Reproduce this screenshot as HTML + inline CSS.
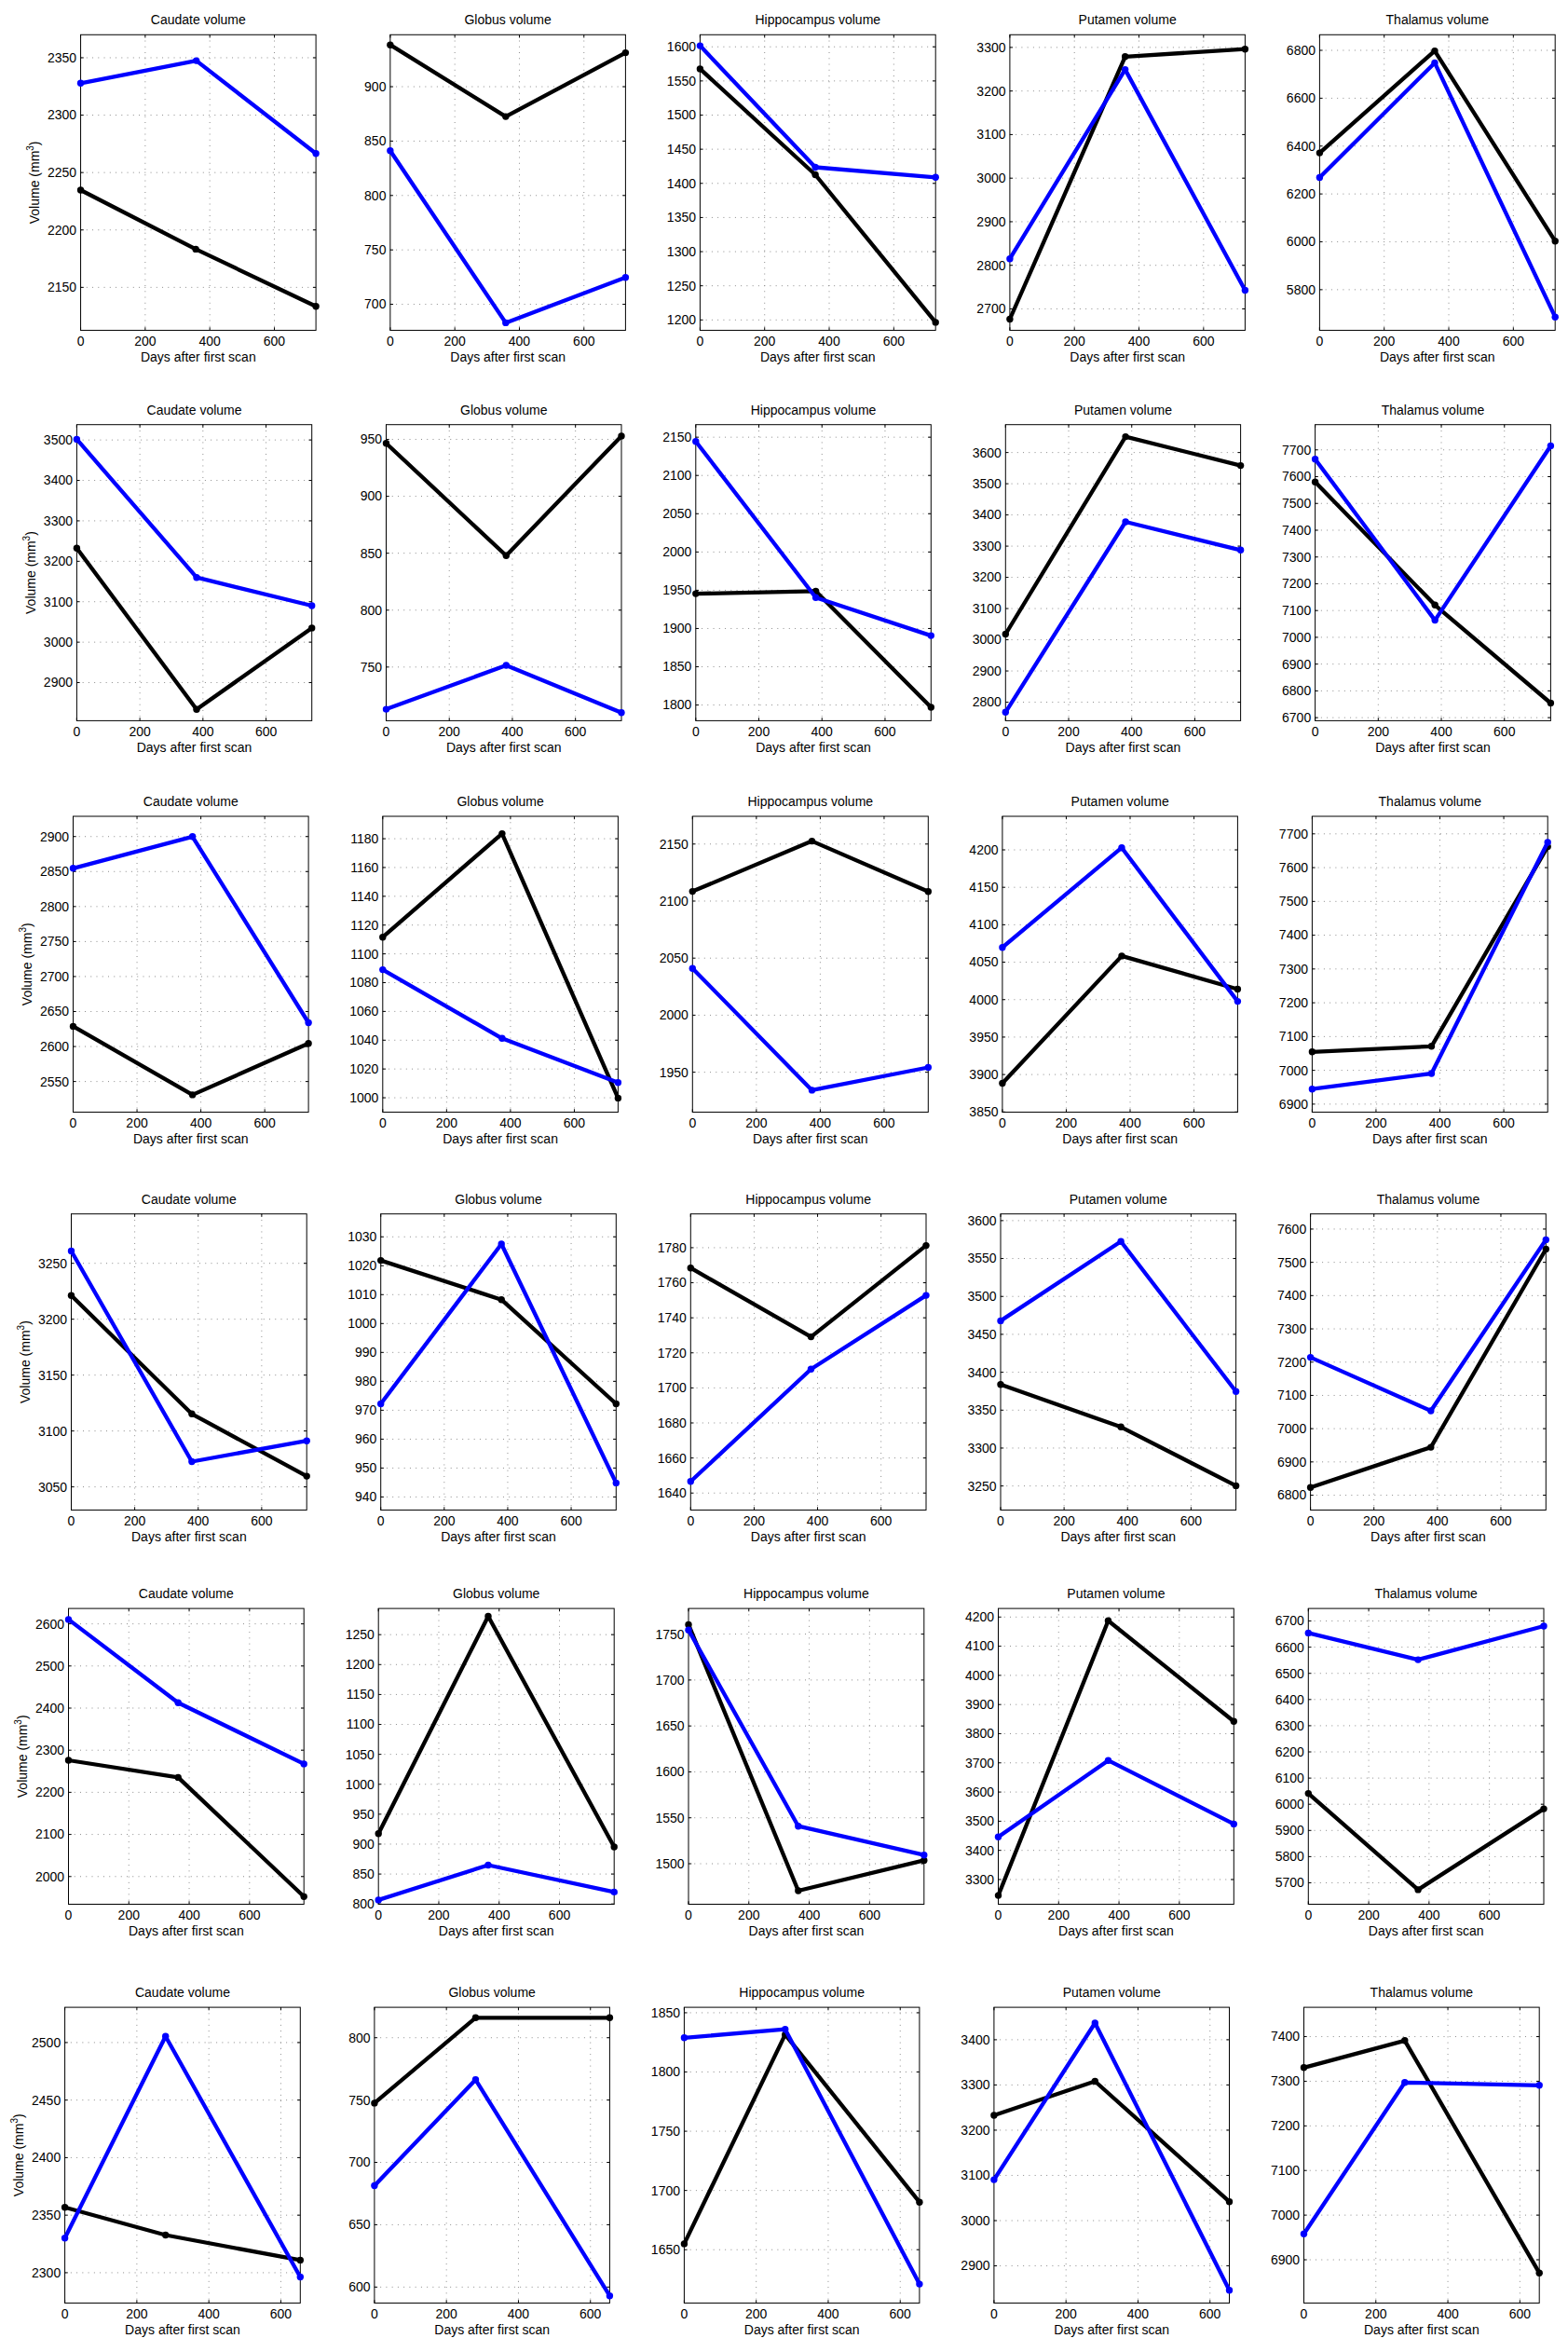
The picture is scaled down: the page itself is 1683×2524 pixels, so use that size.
<!DOCTYPE html>
<html><head><meta charset="utf-8"><title>Brain structure volumes</title>
<style>html,body{margin:0;padding:0;background:#fff;}svg{display:block;}</style>
</head><body>
<svg width="1683" height="2524" viewBox="0 0 1683 2524">
<g font-family="'Liberation Sans', Arial, Helvetica, sans-serif" font-size="14" fill="#000">
<path d="M155.87 37.27V354.45M225.18 37.27V354.45M294.49 37.27V354.45M86.56 61.96H339.1M86.56 123.56H339.1M86.56 185.16H339.1M86.56 246.76H339.1M86.56 308.36H339.1" stroke="#8c8c8c" stroke-width="1" stroke-dasharray="1 5.25" fill="none"/>
<path d="M86.56 354.45v-3.2M86.56 37.27v3.2M155.87 354.45v-3.2M155.87 37.27v3.2M225.18 354.45v-3.2M225.18 37.27v3.2M294.49 354.45v-3.2M294.49 37.27v3.2M86.56 61.96h3.2M339.1 61.96h-3.2M86.56 123.56h3.2M339.1 123.56h-3.2M86.56 185.16h3.2M339.1 185.16h-3.2M86.56 246.76h3.2M339.1 246.76h-3.2M86.56 308.36h3.2M339.1 308.36h-3.2" stroke="#000" stroke-width="1" fill="none"/>
<rect x="86.56" y="37.27" width="252.54" height="317.18" fill="none" stroke="#000" stroke-width="1"/>
<polyline points="86.56,204 210.1,267.4 339.1,328.7" fill="none" stroke="#000" stroke-width="4.3" stroke-linejoin="round"/>
<circle cx="86.56" cy="204" r="3.7" fill="#000"/>
<circle cx="210.1" cy="267.4" r="3.7" fill="#000"/>
<circle cx="339.1" cy="328.7" r="3.7" fill="#000"/>
<polyline points="86.56,89.3 210.7,65.1 339.1,164.8" fill="none" stroke="#0000ff" stroke-width="4.3" stroke-linejoin="round"/>
<circle cx="86.56" cy="89.3" r="3.7" fill="#0000ff"/>
<circle cx="210.7" cy="65.1" r="3.7" fill="#0000ff"/>
<circle cx="339.1" cy="164.8" r="3.7" fill="#0000ff"/>
<text x="82.16" y="66.86" text-anchor="end">2350</text>
<text x="82.16" y="128.46" text-anchor="end">2300</text>
<text x="82.16" y="190.06" text-anchor="end">2250</text>
<text x="82.16" y="251.66" text-anchor="end">2200</text>
<text x="82.16" y="313.26" text-anchor="end">2150</text>
<text x="86.56" y="371.25" text-anchor="middle">0</text>
<text x="155.87" y="371.25" text-anchor="middle">200</text>
<text x="225.18" y="371.25" text-anchor="middle">400</text>
<text x="294.49" y="371.25" text-anchor="middle">600</text>
<text x="212.83" y="25.87" text-anchor="middle">Caudate volume</text>
<text x="212.83" y="387.95" text-anchor="middle">Days after first scan</text>
<text transform="translate(41.76 195.86) rotate(-90)" text-anchor="middle">Volume (mm<tspan font-size="10" dy="-6">3</tspan><tspan dy="6">)</tspan></text>
<path d="M488.16 37.27V354.45M557.47 37.27V354.45M626.78 37.27V354.45M418.85 93.02H671.4M418.85 151.4H671.4M418.85 209.78H671.4M418.85 268.16H671.4M418.85 326.54H671.4" stroke="#8c8c8c" stroke-width="1" stroke-dasharray="1 5.25" fill="none"/>
<path d="M418.85 354.45v-3.2M418.85 37.27v3.2M488.16 354.45v-3.2M488.16 37.27v3.2M557.47 354.45v-3.2M557.47 37.27v3.2M626.78 354.45v-3.2M626.78 37.27v3.2M418.85 93.02h3.2M671.4 93.02h-3.2M418.85 151.4h3.2M671.4 151.4h-3.2M418.85 209.78h3.2M671.4 209.78h-3.2M418.85 268.16h3.2M671.4 268.16h-3.2M418.85 326.54h3.2M671.4 326.54h-3.2" stroke="#000" stroke-width="1" fill="none"/>
<rect x="418.85" y="37.27" width="252.55" height="317.18" fill="none" stroke="#000" stroke-width="1"/>
<polyline points="418.85,48.2 542.8,125.1 671.4,56.6" fill="none" stroke="#000" stroke-width="4.3" stroke-linejoin="round"/>
<circle cx="418.85" cy="48.2" r="3.7" fill="#000"/>
<circle cx="542.8" cy="125.1" r="3.7" fill="#000"/>
<circle cx="671.4" cy="56.6" r="3.7" fill="#000"/>
<polyline points="418.85,161.8 542.8,346.4 671.4,297.7" fill="none" stroke="#0000ff" stroke-width="4.3" stroke-linejoin="round"/>
<circle cx="418.85" cy="161.8" r="3.7" fill="#0000ff"/>
<circle cx="542.8" cy="346.4" r="3.7" fill="#0000ff"/>
<circle cx="671.4" cy="297.7" r="3.7" fill="#0000ff"/>
<text x="414.45" y="97.92" text-anchor="end">900</text>
<text x="414.45" y="156.3" text-anchor="end">850</text>
<text x="414.45" y="214.68" text-anchor="end">800</text>
<text x="414.45" y="273.06" text-anchor="end">750</text>
<text x="414.45" y="331.44" text-anchor="end">700</text>
<text x="418.85" y="371.25" text-anchor="middle">0</text>
<text x="488.16" y="371.25" text-anchor="middle">200</text>
<text x="557.47" y="371.25" text-anchor="middle">400</text>
<text x="626.78" y="371.25" text-anchor="middle">600</text>
<text x="545.12" y="25.87" text-anchor="middle">Globus volume</text>
<text x="545.12" y="387.95" text-anchor="middle">Days after first scan</text>
<path d="M820.71 37.27V354.45M890.02 37.27V354.45M959.33 37.27V354.45M751.4 50.24H1004.2M751.4 86.87H1004.2M751.4 123.51H1004.2M751.4 160.14H1004.2M751.4 196.78H1004.2M751.4 233.41H1004.2M751.4 270.05H1004.2M751.4 306.68H1004.2M751.4 343.32H1004.2" stroke="#8c8c8c" stroke-width="1" stroke-dasharray="1 5.25" fill="none"/>
<path d="M751.4 354.45v-3.2M751.4 37.27v3.2M820.71 354.45v-3.2M820.71 37.27v3.2M890.02 354.45v-3.2M890.02 37.27v3.2M959.33 354.45v-3.2M959.33 37.27v3.2M751.4 50.24h3.2M1004.2 50.24h-3.2M751.4 86.87h3.2M1004.2 86.87h-3.2M751.4 123.51h3.2M1004.2 123.51h-3.2M751.4 160.14h3.2M1004.2 160.14h-3.2M751.4 196.78h3.2M1004.2 196.78h-3.2M751.4 233.41h3.2M1004.2 233.41h-3.2M751.4 270.05h3.2M1004.2 270.05h-3.2M751.4 306.68h3.2M1004.2 306.68h-3.2M751.4 343.32h3.2M1004.2 343.32h-3.2" stroke="#000" stroke-width="1" fill="none"/>
<rect x="751.4" y="37.27" width="252.8" height="317.18" fill="none" stroke="#000" stroke-width="1"/>
<polyline points="751.4,73.9 875.1,187.5 1004.2,345.9" fill="none" stroke="#000" stroke-width="4.3" stroke-linejoin="round"/>
<circle cx="751.4" cy="73.9" r="3.7" fill="#000"/>
<circle cx="875.1" cy="187.5" r="3.7" fill="#000"/>
<circle cx="1004.2" cy="345.9" r="3.7" fill="#000"/>
<polyline points="751.4,49.1 875.1,179.5 1004.2,190.3" fill="none" stroke="#0000ff" stroke-width="4.3" stroke-linejoin="round"/>
<circle cx="751.4" cy="49.1" r="3.7" fill="#0000ff"/>
<circle cx="875.1" cy="179.5" r="3.7" fill="#0000ff"/>
<circle cx="1004.2" cy="190.3" r="3.7" fill="#0000ff"/>
<text x="747" y="55.14" text-anchor="end">1600</text>
<text x="747" y="91.77" text-anchor="end">1550</text>
<text x="747" y="128.41" text-anchor="end">1500</text>
<text x="747" y="165.04" text-anchor="end">1450</text>
<text x="747" y="201.68" text-anchor="end">1400</text>
<text x="747" y="238.31" text-anchor="end">1350</text>
<text x="747" y="274.95" text-anchor="end">1300</text>
<text x="747" y="311.58" text-anchor="end">1250</text>
<text x="747" y="348.22" text-anchor="end">1200</text>
<text x="751.4" y="371.25" text-anchor="middle">0</text>
<text x="820.71" y="371.25" text-anchor="middle">200</text>
<text x="890.02" y="371.25" text-anchor="middle">400</text>
<text x="959.33" y="371.25" text-anchor="middle">600</text>
<text x="877.8" y="25.87" text-anchor="middle">Hippocampus volume</text>
<text x="877.8" y="387.95" text-anchor="middle">Days after first scan</text>
<path d="M1153.21 37.27V354.45M1222.52 37.27V354.45M1291.83 37.27V354.45M1083.9 50.89H1336.4M1083.9 97.66H1336.4M1083.9 144.42H1336.4M1083.9 191.19H1336.4M1083.9 237.95H1336.4M1083.9 284.71H1336.4M1083.9 331.48H1336.4" stroke="#8c8c8c" stroke-width="1" stroke-dasharray="1 5.25" fill="none"/>
<path d="M1083.9 354.45v-3.2M1083.9 37.27v3.2M1153.21 354.45v-3.2M1153.21 37.27v3.2M1222.52 354.45v-3.2M1222.52 37.27v3.2M1291.83 354.45v-3.2M1291.83 37.27v3.2M1083.9 50.89h3.2M1336.4 50.89h-3.2M1083.9 97.66h3.2M1336.4 97.66h-3.2M1083.9 144.42h3.2M1336.4 144.42h-3.2M1083.9 191.19h3.2M1336.4 191.19h-3.2M1083.9 237.95h3.2M1336.4 237.95h-3.2M1083.9 284.71h3.2M1336.4 284.71h-3.2M1083.9 331.48h3.2M1336.4 331.48h-3.2" stroke="#000" stroke-width="1" fill="none"/>
<rect x="1083.9" y="37.27" width="252.5" height="317.18" fill="none" stroke="#000" stroke-width="1"/>
<polyline points="1083.9,342.5 1207.65,60.8 1336.4,52.7" fill="none" stroke="#000" stroke-width="4.3" stroke-linejoin="round"/>
<circle cx="1083.9" cy="342.5" r="3.7" fill="#000"/>
<circle cx="1207.65" cy="60.8" r="3.7" fill="#000"/>
<circle cx="1336.4" cy="52.7" r="3.7" fill="#000"/>
<polyline points="1083.9,277.7 1207.65,74.6 1336.4,311.5" fill="none" stroke="#0000ff" stroke-width="4.3" stroke-linejoin="round"/>
<circle cx="1083.9" cy="277.7" r="3.7" fill="#0000ff"/>
<circle cx="1207.65" cy="74.6" r="3.7" fill="#0000ff"/>
<circle cx="1336.4" cy="311.5" r="3.7" fill="#0000ff"/>
<text x="1079.5" y="55.79" text-anchor="end">3300</text>
<text x="1079.5" y="102.56" text-anchor="end">3200</text>
<text x="1079.5" y="149.32" text-anchor="end">3100</text>
<text x="1079.5" y="196.09" text-anchor="end">3000</text>
<text x="1079.5" y="242.85" text-anchor="end">2900</text>
<text x="1079.5" y="289.61" text-anchor="end">2800</text>
<text x="1079.5" y="336.38" text-anchor="end">2700</text>
<text x="1083.9" y="371.25" text-anchor="middle">0</text>
<text x="1153.21" y="371.25" text-anchor="middle">200</text>
<text x="1222.52" y="371.25" text-anchor="middle">400</text>
<text x="1291.83" y="371.25" text-anchor="middle">600</text>
<text x="1210.15" y="25.87" text-anchor="middle">Putamen volume</text>
<text x="1210.15" y="387.95" text-anchor="middle">Days after first scan</text>
<path d="M1485.71 37.27V354.45M1555.02 37.27V354.45M1624.33 37.27V354.45M1416.4 54H1669.2M1416.4 105.38H1669.2M1416.4 156.75H1669.2M1416.4 208.12H1669.2M1416.4 259.49H1669.2M1416.4 310.86H1669.2" stroke="#8c8c8c" stroke-width="1" stroke-dasharray="1 5.25" fill="none"/>
<path d="M1416.4 354.45v-3.2M1416.4 37.27v3.2M1485.71 354.45v-3.2M1485.71 37.27v3.2M1555.02 354.45v-3.2M1555.02 37.27v3.2M1624.33 354.45v-3.2M1624.33 37.27v3.2M1416.4 54h3.2M1669.2 54h-3.2M1416.4 105.38h3.2M1669.2 105.38h-3.2M1416.4 156.75h3.2M1669.2 156.75h-3.2M1416.4 208.12h3.2M1669.2 208.12h-3.2M1416.4 259.49h3.2M1669.2 259.49h-3.2M1416.4 310.86h3.2M1669.2 310.86h-3.2" stroke="#000" stroke-width="1" fill="none"/>
<rect x="1416.4" y="37.27" width="252.8" height="317.18" fill="none" stroke="#000" stroke-width="1"/>
<polyline points="1416.4,164.1 1539.96,54.6 1669.2,258.7" fill="none" stroke="#000" stroke-width="4.3" stroke-linejoin="round"/>
<circle cx="1416.4" cy="164.1" r="3.7" fill="#000"/>
<circle cx="1539.96" cy="54.6" r="3.7" fill="#000"/>
<circle cx="1669.2" cy="258.7" r="3.7" fill="#000"/>
<polyline points="1416.4,190.5 1539.96,67.4 1669.2,340.2" fill="none" stroke="#0000ff" stroke-width="4.3" stroke-linejoin="round"/>
<circle cx="1416.4" cy="190.5" r="3.7" fill="#0000ff"/>
<circle cx="1539.96" cy="67.4" r="3.7" fill="#0000ff"/>
<circle cx="1669.2" cy="340.2" r="3.7" fill="#0000ff"/>
<text x="1412" y="58.9" text-anchor="end">6800</text>
<text x="1412" y="110.28" text-anchor="end">6600</text>
<text x="1412" y="161.65" text-anchor="end">6400</text>
<text x="1412" y="213.02" text-anchor="end">6200</text>
<text x="1412" y="264.39" text-anchor="end">6000</text>
<text x="1412" y="315.76" text-anchor="end">5800</text>
<text x="1416.4" y="371.25" text-anchor="middle">0</text>
<text x="1485.71" y="371.25" text-anchor="middle">200</text>
<text x="1555.02" y="371.25" text-anchor="middle">400</text>
<text x="1624.33" y="371.25" text-anchor="middle">600</text>
<text x="1542.8" y="25.87" text-anchor="middle">Thalamus volume</text>
<text x="1542.8" y="387.95" text-anchor="middle">Days after first scan</text>
<path d="M150.12 455.7V773.4M217.84 455.7V773.4M285.56 455.7V773.4M82.4 472.13H334.7M82.4 515.53H334.7M82.4 558.93H334.7M82.4 602.33H334.7M82.4 645.73H334.7M82.4 689.13H334.7M82.4 732.53H334.7" stroke="#8c8c8c" stroke-width="1" stroke-dasharray="1 5.25" fill="none"/>
<path d="M82.4 773.4v-3.2M82.4 455.7v3.2M150.12 773.4v-3.2M150.12 455.7v3.2M217.84 773.4v-3.2M217.84 455.7v3.2M285.56 773.4v-3.2M285.56 455.7v3.2M82.4 472.13h3.2M334.7 472.13h-3.2M82.4 515.53h3.2M334.7 515.53h-3.2M82.4 558.93h3.2M334.7 558.93h-3.2M82.4 602.33h3.2M334.7 602.33h-3.2M82.4 645.73h3.2M334.7 645.73h-3.2M82.4 689.13h3.2M334.7 689.13h-3.2M82.4 732.53h3.2M334.7 732.53h-3.2" stroke="#000" stroke-width="1" fill="none"/>
<rect x="82.4" y="455.7" width="252.3" height="317.7" fill="none" stroke="#000" stroke-width="1"/>
<polyline points="82.4,588.2 211,761.3 334.7,673.9" fill="none" stroke="#000" stroke-width="4.3" stroke-linejoin="round"/>
<circle cx="82.4" cy="588.2" r="3.7" fill="#000"/>
<circle cx="211" cy="761.3" r="3.7" fill="#000"/>
<circle cx="334.7" cy="673.9" r="3.7" fill="#000"/>
<polyline points="82.4,471.4 211,619.7 334.7,650" fill="none" stroke="#0000ff" stroke-width="4.3" stroke-linejoin="round"/>
<circle cx="82.4" cy="471.4" r="3.7" fill="#0000ff"/>
<circle cx="211" cy="619.7" r="3.7" fill="#0000ff"/>
<circle cx="334.7" cy="650" r="3.7" fill="#0000ff"/>
<text x="78" y="477.03" text-anchor="end">3500</text>
<text x="78" y="520.43" text-anchor="end">3400</text>
<text x="78" y="563.83" text-anchor="end">3300</text>
<text x="78" y="607.23" text-anchor="end">3200</text>
<text x="78" y="650.63" text-anchor="end">3100</text>
<text x="78" y="694.03" text-anchor="end">3000</text>
<text x="78" y="737.43" text-anchor="end">2900</text>
<text x="82.4" y="790.2" text-anchor="middle">0</text>
<text x="150.12" y="790.2" text-anchor="middle">200</text>
<text x="217.84" y="790.2" text-anchor="middle">400</text>
<text x="285.56" y="790.2" text-anchor="middle">600</text>
<text x="208.55" y="444.95" text-anchor="middle">Caudate volume</text>
<text x="208.55" y="806.9" text-anchor="middle">Days after first scan</text>
<text transform="translate(37.6 614.55) rotate(-90)" text-anchor="middle">Volume (mm<tspan font-size="10" dy="-6">3</tspan><tspan dy="6">)</tspan></text>
<path d="M482.22 455.7V773.4M549.94 455.7V773.4M617.66 455.7V773.4M414.5 471.48H667M414.5 532.57H667M414.5 593.66H667M414.5 654.75H667M414.5 715.84H667" stroke="#8c8c8c" stroke-width="1" stroke-dasharray="1 5.25" fill="none"/>
<path d="M414.5 773.4v-3.2M414.5 455.7v3.2M482.22 773.4v-3.2M482.22 455.7v3.2M549.94 773.4v-3.2M549.94 455.7v3.2M617.66 773.4v-3.2M617.66 455.7v3.2M414.5 471.48h3.2M667 471.48h-3.2M414.5 532.57h3.2M667 532.57h-3.2M414.5 593.66h3.2M667 593.66h-3.2M414.5 654.75h3.2M667 654.75h-3.2M414.5 715.84h3.2M667 715.84h-3.2" stroke="#000" stroke-width="1" fill="none"/>
<rect x="414.5" y="455.7" width="252.5" height="317.7" fill="none" stroke="#000" stroke-width="1"/>
<polyline points="414.5,475.7 543.3,596.3 667,467.9" fill="none" stroke="#000" stroke-width="4.3" stroke-linejoin="round"/>
<circle cx="414.5" cy="475.7" r="3.7" fill="#000"/>
<circle cx="543.3" cy="596.3" r="3.7" fill="#000"/>
<circle cx="667" cy="467.9" r="3.7" fill="#000"/>
<polyline points="414.5,761.1 543.3,714 667,764.8" fill="none" stroke="#0000ff" stroke-width="4.3" stroke-linejoin="round"/>
<circle cx="414.5" cy="761.1" r="3.7" fill="#0000ff"/>
<circle cx="543.3" cy="714" r="3.7" fill="#0000ff"/>
<circle cx="667" cy="764.8" r="3.7" fill="#0000ff"/>
<text x="410.1" y="476.38" text-anchor="end">950</text>
<text x="410.1" y="537.47" text-anchor="end">900</text>
<text x="410.1" y="598.56" text-anchor="end">850</text>
<text x="410.1" y="659.65" text-anchor="end">800</text>
<text x="410.1" y="720.74" text-anchor="end">750</text>
<text x="414.5" y="790.2" text-anchor="middle">0</text>
<text x="482.22" y="790.2" text-anchor="middle">200</text>
<text x="549.94" y="790.2" text-anchor="middle">400</text>
<text x="617.66" y="790.2" text-anchor="middle">600</text>
<text x="540.75" y="444.95" text-anchor="middle">Globus volume</text>
<text x="540.75" y="806.9" text-anchor="middle">Days after first scan</text>
<path d="M814.52 455.7V773.4M882.24 455.7V773.4M949.96 455.7V773.4M746.8 469.17H999.3M746.8 510.23H999.3M746.8 551.29H999.3M746.8 592.35H999.3M746.8 633.4H999.3M746.8 674.46H999.3M746.8 715.52H999.3M746.8 756.57H999.3" stroke="#8c8c8c" stroke-width="1" stroke-dasharray="1 5.25" fill="none"/>
<path d="M746.8 773.4v-3.2M746.8 455.7v3.2M814.52 773.4v-3.2M814.52 455.7v3.2M882.24 773.4v-3.2M882.24 455.7v3.2M949.96 773.4v-3.2M949.96 455.7v3.2M746.8 469.17h3.2M999.3 469.17h-3.2M746.8 510.23h3.2M999.3 510.23h-3.2M746.8 551.29h3.2M999.3 551.29h-3.2M746.8 592.35h3.2M999.3 592.35h-3.2M746.8 633.4h3.2M999.3 633.4h-3.2M746.8 674.46h3.2M999.3 674.46h-3.2M746.8 715.52h3.2M999.3 715.52h-3.2M746.8 756.57h3.2M999.3 756.57h-3.2" stroke="#000" stroke-width="1" fill="none"/>
<rect x="746.8" y="455.7" width="252.5" height="317.7" fill="none" stroke="#000" stroke-width="1"/>
<polyline points="746.8,637.1 875.6,634.4 999.3,759" fill="none" stroke="#000" stroke-width="4.3" stroke-linejoin="round"/>
<circle cx="746.8" cy="637.1" r="3.7" fill="#000"/>
<circle cx="875.6" cy="634.4" r="3.7" fill="#000"/>
<circle cx="999.3" cy="759" r="3.7" fill="#000"/>
<polyline points="746.8,473.7 875.6,641.3 999.3,682.1" fill="none" stroke="#0000ff" stroke-width="4.3" stroke-linejoin="round"/>
<circle cx="746.8" cy="473.7" r="3.7" fill="#0000ff"/>
<circle cx="875.6" cy="641.3" r="3.7" fill="#0000ff"/>
<circle cx="999.3" cy="682.1" r="3.7" fill="#0000ff"/>
<text x="742.4" y="474.07" text-anchor="end">2150</text>
<text x="742.4" y="515.13" text-anchor="end">2100</text>
<text x="742.4" y="556.19" text-anchor="end">2050</text>
<text x="742.4" y="597.25" text-anchor="end">2000</text>
<text x="742.4" y="638.3" text-anchor="end">1950</text>
<text x="742.4" y="679.36" text-anchor="end">1900</text>
<text x="742.4" y="720.42" text-anchor="end">1850</text>
<text x="742.4" y="761.47" text-anchor="end">1800</text>
<text x="746.8" y="790.2" text-anchor="middle">0</text>
<text x="814.52" y="790.2" text-anchor="middle">200</text>
<text x="882.24" y="790.2" text-anchor="middle">400</text>
<text x="949.96" y="790.2" text-anchor="middle">600</text>
<text x="873.05" y="444.95" text-anchor="middle">Hippocampus volume</text>
<text x="873.05" y="806.9" text-anchor="middle">Days after first scan</text>
<path d="M1147.02 455.7V773.4M1214.74 455.7V773.4M1282.46 455.7V773.4M1079.3 485.61H1331.6M1079.3 519.1H1331.6M1079.3 552.59H1331.6M1079.3 586.08H1331.6M1079.3 619.57H1331.6M1079.3 653.06H1331.6M1079.3 686.55H1331.6M1079.3 720.04H1331.6M1079.3 753.53H1331.6" stroke="#8c8c8c" stroke-width="1" stroke-dasharray="1 5.25" fill="none"/>
<path d="M1079.3 773.4v-3.2M1079.3 455.7v3.2M1147.02 773.4v-3.2M1147.02 455.7v3.2M1214.74 773.4v-3.2M1214.74 455.7v3.2M1282.46 773.4v-3.2M1282.46 455.7v3.2M1079.3 485.61h3.2M1331.6 485.61h-3.2M1079.3 519.1h3.2M1331.6 519.1h-3.2M1079.3 552.59h3.2M1331.6 552.59h-3.2M1079.3 586.08h3.2M1331.6 586.08h-3.2M1079.3 619.57h3.2M1331.6 619.57h-3.2M1079.3 653.06h3.2M1331.6 653.06h-3.2M1079.3 686.55h3.2M1331.6 686.55h-3.2M1079.3 720.04h3.2M1331.6 720.04h-3.2M1079.3 753.53h3.2M1331.6 753.53h-3.2" stroke="#000" stroke-width="1" fill="none"/>
<rect x="1079.3" y="455.7" width="252.3" height="317.7" fill="none" stroke="#000" stroke-width="1"/>
<polyline points="1079.3,680.5 1208.1,468.6 1331.6,499.6" fill="none" stroke="#000" stroke-width="4.3" stroke-linejoin="round"/>
<circle cx="1079.3" cy="680.5" r="3.7" fill="#000"/>
<circle cx="1208.1" cy="468.6" r="3.7" fill="#000"/>
<circle cx="1331.6" cy="499.6" r="3.7" fill="#000"/>
<polyline points="1079.3,764.3 1208.1,560 1331.6,590.3" fill="none" stroke="#0000ff" stroke-width="4.3" stroke-linejoin="round"/>
<circle cx="1079.3" cy="764.3" r="3.7" fill="#0000ff"/>
<circle cx="1208.1" cy="560" r="3.7" fill="#0000ff"/>
<circle cx="1331.6" cy="590.3" r="3.7" fill="#0000ff"/>
<text x="1074.9" y="490.51" text-anchor="end">3600</text>
<text x="1074.9" y="524" text-anchor="end">3500</text>
<text x="1074.9" y="557.49" text-anchor="end">3400</text>
<text x="1074.9" y="590.98" text-anchor="end">3300</text>
<text x="1074.9" y="624.47" text-anchor="end">3200</text>
<text x="1074.9" y="657.96" text-anchor="end">3100</text>
<text x="1074.9" y="691.45" text-anchor="end">3000</text>
<text x="1074.9" y="724.94" text-anchor="end">2900</text>
<text x="1074.9" y="758.43" text-anchor="end">2800</text>
<text x="1079.3" y="790.2" text-anchor="middle">0</text>
<text x="1147.02" y="790.2" text-anchor="middle">200</text>
<text x="1214.74" y="790.2" text-anchor="middle">400</text>
<text x="1282.46" y="790.2" text-anchor="middle">600</text>
<text x="1205.45" y="444.95" text-anchor="middle">Putamen volume</text>
<text x="1205.45" y="806.9" text-anchor="middle">Days after first scan</text>
<path d="M1479.32 455.7V773.4M1547.04 455.7V773.4M1614.76 455.7V773.4M1411.6 482.78H1664.4M1411.6 511.52H1664.4M1411.6 540.25H1664.4M1411.6 568.99H1664.4M1411.6 597.72H1664.4M1411.6 626.45H1664.4M1411.6 655.19H1664.4M1411.6 683.92H1664.4M1411.6 712.66H1664.4M1411.6 741.39H1664.4M1411.6 770.13H1664.4" stroke="#8c8c8c" stroke-width="1" stroke-dasharray="1 5.25" fill="none"/>
<path d="M1411.6 773.4v-3.2M1411.6 455.7v3.2M1479.32 773.4v-3.2M1479.32 455.7v3.2M1547.04 773.4v-3.2M1547.04 455.7v3.2M1614.76 773.4v-3.2M1614.76 455.7v3.2M1411.6 482.78h3.2M1664.4 482.78h-3.2M1411.6 511.52h3.2M1664.4 511.52h-3.2M1411.6 540.25h3.2M1664.4 540.25h-3.2M1411.6 568.99h3.2M1664.4 568.99h-3.2M1411.6 597.72h3.2M1664.4 597.72h-3.2M1411.6 626.45h3.2M1664.4 626.45h-3.2M1411.6 655.19h3.2M1664.4 655.19h-3.2M1411.6 683.92h3.2M1664.4 683.92h-3.2M1411.6 712.66h3.2M1664.4 712.66h-3.2M1411.6 741.39h3.2M1664.4 741.39h-3.2M1411.6 770.13h3.2M1664.4 770.13h-3.2" stroke="#000" stroke-width="1" fill="none"/>
<rect x="1411.6" y="455.7" width="252.8" height="317.7" fill="none" stroke="#000" stroke-width="1"/>
<polyline points="1411.6,517.3 1540.2,649.3 1664.4,754.5" fill="none" stroke="#000" stroke-width="4.3" stroke-linejoin="round"/>
<circle cx="1411.6" cy="517.3" r="3.7" fill="#000"/>
<circle cx="1540.2" cy="649.3" r="3.7" fill="#000"/>
<circle cx="1664.4" cy="754.5" r="3.7" fill="#000"/>
<polyline points="1411.6,492.7 1540.2,665.6 1664.4,478.5" fill="none" stroke="#0000ff" stroke-width="4.3" stroke-linejoin="round"/>
<circle cx="1411.6" cy="492.7" r="3.7" fill="#0000ff"/>
<circle cx="1540.2" cy="665.6" r="3.7" fill="#0000ff"/>
<circle cx="1664.4" cy="478.5" r="3.7" fill="#0000ff"/>
<text x="1407.2" y="487.68" text-anchor="end">7700</text>
<text x="1407.2" y="516.42" text-anchor="end">7600</text>
<text x="1407.2" y="545.15" text-anchor="end">7500</text>
<text x="1407.2" y="573.89" text-anchor="end">7400</text>
<text x="1407.2" y="602.62" text-anchor="end">7300</text>
<text x="1407.2" y="631.35" text-anchor="end">7200</text>
<text x="1407.2" y="660.09" text-anchor="end">7100</text>
<text x="1407.2" y="688.82" text-anchor="end">7000</text>
<text x="1407.2" y="717.56" text-anchor="end">6900</text>
<text x="1407.2" y="746.29" text-anchor="end">6800</text>
<text x="1407.2" y="775.03" text-anchor="end">6700</text>
<text x="1411.6" y="790.2" text-anchor="middle">0</text>
<text x="1479.32" y="790.2" text-anchor="middle">200</text>
<text x="1547.04" y="790.2" text-anchor="middle">400</text>
<text x="1614.76" y="790.2" text-anchor="middle">600</text>
<text x="1538" y="444.95" text-anchor="middle">Thalamus volume</text>
<text x="1538" y="806.9" text-anchor="middle">Days after first scan</text>
<path d="M147.05 876V1193.45M215.6 876V1193.45M284.15 876V1193.45M78.5 897.73H331.1M78.5 935.29H331.1M78.5 972.84H331.1M78.5 1010.4H331.1M78.5 1047.95H331.1M78.5 1085.51H331.1M78.5 1123.06H331.1M78.5 1160.62H331.1" stroke="#8c8c8c" stroke-width="1" stroke-dasharray="1 5.25" fill="none"/>
<path d="M78.5 1193.45v-3.2M78.5 876v3.2M147.05 1193.45v-3.2M147.05 876v3.2M215.6 1193.45v-3.2M215.6 876v3.2M284.15 1193.45v-3.2M284.15 876v3.2M78.5 897.73h3.2M331.1 897.73h-3.2M78.5 935.29h3.2M331.1 935.29h-3.2M78.5 972.84h3.2M331.1 972.84h-3.2M78.5 1010.4h3.2M331.1 1010.4h-3.2M78.5 1047.95h3.2M331.1 1047.95h-3.2M78.5 1085.51h3.2M331.1 1085.51h-3.2M78.5 1123.06h3.2M331.1 1123.06h-3.2M78.5 1160.62h3.2M331.1 1160.62h-3.2" stroke="#000" stroke-width="1" fill="none"/>
<rect x="78.5" y="876" width="252.6" height="317.45" fill="none" stroke="#000" stroke-width="1"/>
<polyline points="78.5,1101.4 206.6,1174.9 331.1,1119.8" fill="none" stroke="#000" stroke-width="4.3" stroke-linejoin="round"/>
<circle cx="78.5" cy="1101.4" r="3.7" fill="#000"/>
<circle cx="206.6" cy="1174.9" r="3.7" fill="#000"/>
<circle cx="331.1" cy="1119.8" r="3.7" fill="#000"/>
<polyline points="78.5,931.8 206.6,897.8 331.1,1097.5" fill="none" stroke="#0000ff" stroke-width="4.3" stroke-linejoin="round"/>
<circle cx="78.5" cy="931.8" r="3.7" fill="#0000ff"/>
<circle cx="206.6" cy="897.8" r="3.7" fill="#0000ff"/>
<circle cx="331.1" cy="1097.5" r="3.7" fill="#0000ff"/>
<text x="74.1" y="902.63" text-anchor="end">2900</text>
<text x="74.1" y="940.19" text-anchor="end">2850</text>
<text x="74.1" y="977.74" text-anchor="end">2800</text>
<text x="74.1" y="1015.3" text-anchor="end">2750</text>
<text x="74.1" y="1052.85" text-anchor="end">2700</text>
<text x="74.1" y="1090.41" text-anchor="end">2650</text>
<text x="74.1" y="1127.96" text-anchor="end">2600</text>
<text x="74.1" y="1165.52" text-anchor="end">2550</text>
<text x="78.5" y="1210.25" text-anchor="middle">0</text>
<text x="147.05" y="1210.25" text-anchor="middle">200</text>
<text x="215.6" y="1210.25" text-anchor="middle">400</text>
<text x="284.15" y="1210.25" text-anchor="middle">600</text>
<text x="204.8" y="865" text-anchor="middle">Caudate volume</text>
<text x="204.8" y="1226.95" text-anchor="middle">Days after first scan</text>
<text transform="translate(33.7 1034.72) rotate(-90)" text-anchor="middle">Volume (mm<tspan font-size="10" dy="-6">3</tspan><tspan dy="6">)</tspan></text>
<path d="M479.35 876V1193.45M547.9 876V1193.45M616.45 876V1193.45M410.8 900.06H663.4M410.8 930.95H663.4M410.8 961.83H663.4M410.8 992.72H663.4M410.8 1023.61H663.4M410.8 1054.49H663.4M410.8 1085.38H663.4M410.8 1116.27H663.4M410.8 1147.15H663.4M410.8 1178.04H663.4" stroke="#8c8c8c" stroke-width="1" stroke-dasharray="1 5.25" fill="none"/>
<path d="M410.8 1193.45v-3.2M410.8 876v3.2M479.35 1193.45v-3.2M479.35 876v3.2M547.9 1193.45v-3.2M547.9 876v3.2M616.45 1193.45v-3.2M616.45 876v3.2M410.8 900.06h3.2M663.4 900.06h-3.2M410.8 930.95h3.2M663.4 930.95h-3.2M410.8 961.83h3.2M663.4 961.83h-3.2M410.8 992.72h3.2M663.4 992.72h-3.2M410.8 1023.61h3.2M663.4 1023.61h-3.2M410.8 1054.49h3.2M663.4 1054.49h-3.2M410.8 1085.38h3.2M663.4 1085.38h-3.2M410.8 1116.27h3.2M663.4 1116.27h-3.2M410.8 1147.15h3.2M663.4 1147.15h-3.2M410.8 1178.04h3.2M663.4 1178.04h-3.2" stroke="#000" stroke-width="1" fill="none"/>
<rect x="410.8" y="876" width="252.6" height="317.45" fill="none" stroke="#000" stroke-width="1"/>
<polyline points="410.8,1005.7 538.9,894.6 663.4,1178.4" fill="none" stroke="#000" stroke-width="4.3" stroke-linejoin="round"/>
<circle cx="410.8" cy="1005.7" r="3.7" fill="#000"/>
<circle cx="538.9" cy="894.6" r="3.7" fill="#000"/>
<circle cx="663.4" cy="1178.4" r="3.7" fill="#000"/>
<polyline points="410.8,1040.6 538.9,1114.3 663.4,1161.8" fill="none" stroke="#0000ff" stroke-width="4.3" stroke-linejoin="round"/>
<circle cx="410.8" cy="1040.6" r="3.7" fill="#0000ff"/>
<circle cx="538.9" cy="1114.3" r="3.7" fill="#0000ff"/>
<circle cx="663.4" cy="1161.8" r="3.7" fill="#0000ff"/>
<text x="406.4" y="904.96" text-anchor="end">1180</text>
<text x="406.4" y="935.85" text-anchor="end">1160</text>
<text x="406.4" y="966.73" text-anchor="end">1140</text>
<text x="406.4" y="997.62" text-anchor="end">1120</text>
<text x="406.4" y="1028.51" text-anchor="end">1100</text>
<text x="406.4" y="1059.39" text-anchor="end">1080</text>
<text x="406.4" y="1090.28" text-anchor="end">1060</text>
<text x="406.4" y="1121.17" text-anchor="end">1040</text>
<text x="406.4" y="1152.05" text-anchor="end">1020</text>
<text x="406.4" y="1182.94" text-anchor="end">1000</text>
<text x="410.8" y="1210.25" text-anchor="middle">0</text>
<text x="479.35" y="1210.25" text-anchor="middle">200</text>
<text x="547.9" y="1210.25" text-anchor="middle">400</text>
<text x="616.45" y="1210.25" text-anchor="middle">600</text>
<text x="537.1" y="865" text-anchor="middle">Globus volume</text>
<text x="537.1" y="1226.95" text-anchor="middle">Days after first scan</text>
<path d="M811.85 876V1193.45M880.4 876V1193.45M948.95 876V1193.45M743.3 905.76H996.3M743.3 966.98H996.3M743.3 1028.2H996.3M743.3 1089.42H996.3M743.3 1150.64H996.3" stroke="#8c8c8c" stroke-width="1" stroke-dasharray="1 5.25" fill="none"/>
<path d="M743.3 1193.45v-3.2M743.3 876v3.2M811.85 1193.45v-3.2M811.85 876v3.2M880.4 1193.45v-3.2M880.4 876v3.2M948.95 1193.45v-3.2M948.95 876v3.2M743.3 905.76h3.2M996.3 905.76h-3.2M743.3 966.98h3.2M996.3 966.98h-3.2M743.3 1028.2h3.2M996.3 1028.2h-3.2M743.3 1089.42h3.2M996.3 1089.42h-3.2M743.3 1150.64h3.2M996.3 1150.64h-3.2" stroke="#000" stroke-width="1" fill="none"/>
<rect x="743.3" y="876" width="253" height="317.45" fill="none" stroke="#000" stroke-width="1"/>
<polyline points="743.3,956.6 871.5,902.6 996.3,956.8" fill="none" stroke="#000" stroke-width="4.3" stroke-linejoin="round"/>
<circle cx="743.3" cy="956.6" r="3.7" fill="#000"/>
<circle cx="871.5" cy="902.6" r="3.7" fill="#000"/>
<circle cx="996.3" cy="956.8" r="3.7" fill="#000"/>
<polyline points="743.3,1039.2 871.5,1169.9 996.3,1145.5" fill="none" stroke="#0000ff" stroke-width="4.3" stroke-linejoin="round"/>
<circle cx="743.3" cy="1039.2" r="3.7" fill="#0000ff"/>
<circle cx="871.5" cy="1169.9" r="3.7" fill="#0000ff"/>
<circle cx="996.3" cy="1145.5" r="3.7" fill="#0000ff"/>
<text x="738.9" y="910.66" text-anchor="end">2150</text>
<text x="738.9" y="971.88" text-anchor="end">2100</text>
<text x="738.9" y="1033.1" text-anchor="end">2050</text>
<text x="738.9" y="1094.32" text-anchor="end">2000</text>
<text x="738.9" y="1155.54" text-anchor="end">1950</text>
<text x="743.3" y="1210.25" text-anchor="middle">0</text>
<text x="811.85" y="1210.25" text-anchor="middle">200</text>
<text x="880.4" y="1210.25" text-anchor="middle">400</text>
<text x="948.95" y="1210.25" text-anchor="middle">600</text>
<text x="869.8" y="865" text-anchor="middle">Hippocampus volume</text>
<text x="869.8" y="1226.95" text-anchor="middle">Days after first scan</text>
<path d="M1144.45 876V1193.45M1213 876V1193.45M1281.55 876V1193.45M1075.9 912H1328.4M1075.9 952.19H1328.4M1075.9 992.37H1328.4M1075.9 1032.56H1328.4M1075.9 1072.74H1328.4M1075.9 1112.93H1328.4M1075.9 1153.11H1328.4" stroke="#8c8c8c" stroke-width="1" stroke-dasharray="1 5.25" fill="none"/>
<path d="M1075.9 1193.45v-3.2M1075.9 876v3.2M1144.45 1193.45v-3.2M1144.45 876v3.2M1213 1193.45v-3.2M1213 876v3.2M1281.55 1193.45v-3.2M1281.55 876v3.2M1075.9 912h3.2M1328.4 912h-3.2M1075.9 952.19h3.2M1328.4 952.19h-3.2M1075.9 992.37h3.2M1328.4 992.37h-3.2M1075.9 1032.56h3.2M1328.4 1032.56h-3.2M1075.9 1072.74h3.2M1328.4 1072.74h-3.2M1075.9 1112.93h3.2M1328.4 1112.93h-3.2M1075.9 1153.11h3.2M1328.4 1153.11h-3.2M1075.9 1193.3h3.2M1328.4 1193.3h-3.2" stroke="#000" stroke-width="1" fill="none"/>
<rect x="1075.9" y="876" width="252.5" height="317.45" fill="none" stroke="#000" stroke-width="1"/>
<polyline points="1075.9,1162.5 1204,1025.9 1328.4,1061.5" fill="none" stroke="#000" stroke-width="4.3" stroke-linejoin="round"/>
<circle cx="1075.9" cy="1162.5" r="3.7" fill="#000"/>
<circle cx="1204" cy="1025.9" r="3.7" fill="#000"/>
<circle cx="1328.4" cy="1061.5" r="3.7" fill="#000"/>
<polyline points="1075.9,1016.7 1204,909.7 1328.4,1074.6" fill="none" stroke="#0000ff" stroke-width="4.3" stroke-linejoin="round"/>
<circle cx="1075.9" cy="1016.7" r="3.7" fill="#0000ff"/>
<circle cx="1204" cy="909.7" r="3.7" fill="#0000ff"/>
<circle cx="1328.4" cy="1074.6" r="3.7" fill="#0000ff"/>
<text x="1071.5" y="916.9" text-anchor="end">4200</text>
<text x="1071.5" y="957.09" text-anchor="end">4150</text>
<text x="1071.5" y="997.27" text-anchor="end">4100</text>
<text x="1071.5" y="1037.46" text-anchor="end">4050</text>
<text x="1071.5" y="1077.64" text-anchor="end">4000</text>
<text x="1071.5" y="1117.83" text-anchor="end">3950</text>
<text x="1071.5" y="1158.01" text-anchor="end">3900</text>
<text x="1071.5" y="1198.2" text-anchor="end">3850</text>
<text x="1075.9" y="1210.25" text-anchor="middle">0</text>
<text x="1144.45" y="1210.25" text-anchor="middle">200</text>
<text x="1213" y="1210.25" text-anchor="middle">400</text>
<text x="1281.55" y="1210.25" text-anchor="middle">600</text>
<text x="1202.15" y="865" text-anchor="middle">Putamen volume</text>
<text x="1202.15" y="1226.95" text-anchor="middle">Days after first scan</text>
<path d="M1476.95 876V1193.45M1545.5 876V1193.45M1614.05 876V1193.45M1408.4 894.82H1661.2M1408.4 931.07H1661.2M1408.4 967.33H1661.2M1408.4 1003.59H1661.2M1408.4 1039.84H1661.2M1408.4 1076.1H1661.2M1408.4 1112.36H1661.2M1408.4 1148.61H1661.2M1408.4 1184.87H1661.2" stroke="#8c8c8c" stroke-width="1" stroke-dasharray="1 5.25" fill="none"/>
<path d="M1408.4 1193.45v-3.2M1408.4 876v3.2M1476.95 1193.45v-3.2M1476.95 876v3.2M1545.5 1193.45v-3.2M1545.5 876v3.2M1614.05 1193.45v-3.2M1614.05 876v3.2M1408.4 894.82h3.2M1661.2 894.82h-3.2M1408.4 931.07h3.2M1661.2 931.07h-3.2M1408.4 967.33h3.2M1661.2 967.33h-3.2M1408.4 1003.59h3.2M1661.2 1003.59h-3.2M1408.4 1039.84h3.2M1661.2 1039.84h-3.2M1408.4 1076.1h3.2M1661.2 1076.1h-3.2M1408.4 1112.36h3.2M1661.2 1112.36h-3.2M1408.4 1148.61h3.2M1661.2 1148.61h-3.2M1408.4 1184.87h3.2M1661.2 1184.87h-3.2" stroke="#000" stroke-width="1" fill="none"/>
<rect x="1408.4" y="876" width="252.8" height="317.45" fill="none" stroke="#000" stroke-width="1"/>
<polyline points="1408.4,1128.8 1536.5,1122.8 1661.2,908.6" fill="none" stroke="#000" stroke-width="4.3" stroke-linejoin="round"/>
<circle cx="1408.4" cy="1128.8" r="3.7" fill="#000"/>
<circle cx="1536.5" cy="1122.8" r="3.7" fill="#000"/>
<circle cx="1661.2" cy="908.6" r="3.7" fill="#000"/>
<polyline points="1408.4,1168.7 1536.5,1152 1661.2,904" fill="none" stroke="#0000ff" stroke-width="4.3" stroke-linejoin="round"/>
<circle cx="1408.4" cy="1168.7" r="3.7" fill="#0000ff"/>
<circle cx="1536.5" cy="1152" r="3.7" fill="#0000ff"/>
<circle cx="1661.2" cy="904" r="3.7" fill="#0000ff"/>
<text x="1404" y="899.72" text-anchor="end">7700</text>
<text x="1404" y="935.97" text-anchor="end">7600</text>
<text x="1404" y="972.23" text-anchor="end">7500</text>
<text x="1404" y="1008.49" text-anchor="end">7400</text>
<text x="1404" y="1044.74" text-anchor="end">7300</text>
<text x="1404" y="1081" text-anchor="end">7200</text>
<text x="1404" y="1117.26" text-anchor="end">7100</text>
<text x="1404" y="1153.51" text-anchor="end">7000</text>
<text x="1404" y="1189.77" text-anchor="end">6900</text>
<text x="1408.4" y="1210.25" text-anchor="middle">0</text>
<text x="1476.95" y="1210.25" text-anchor="middle">200</text>
<text x="1545.5" y="1210.25" text-anchor="middle">400</text>
<text x="1614.05" y="1210.25" text-anchor="middle">600</text>
<text x="1534.8" y="865" text-anchor="middle">Thalamus volume</text>
<text x="1534.8" y="1226.95" text-anchor="middle">Days after first scan</text>
<path d="M144.62 1302.7V1620.45M212.74 1302.7V1620.45M280.86 1302.7V1620.45M76.5 1355.7H329.2M76.5 1415.68H329.2M76.5 1475.66H329.2M76.5 1535.64H329.2M76.5 1595.62H329.2" stroke="#8c8c8c" stroke-width="1" stroke-dasharray="1 5.25" fill="none"/>
<path d="M76.5 1620.45v-3.2M76.5 1302.7v3.2M144.62 1620.45v-3.2M144.62 1302.7v3.2M212.74 1620.45v-3.2M212.74 1302.7v3.2M280.86 1620.45v-3.2M280.86 1302.7v3.2M76.5 1355.7h3.2M329.2 1355.7h-3.2M76.5 1415.68h3.2M329.2 1415.68h-3.2M76.5 1475.66h3.2M329.2 1475.66h-3.2M76.5 1535.64h3.2M329.2 1535.64h-3.2M76.5 1595.62h3.2M329.2 1595.62h-3.2" stroke="#000" stroke-width="1" fill="none"/>
<rect x="76.5" y="1302.7" width="252.7" height="317.75" fill="none" stroke="#000" stroke-width="1"/>
<polyline points="76.5,1390.3 205.9,1517.3 329.2,1584.1" fill="none" stroke="#000" stroke-width="4.3" stroke-linejoin="round"/>
<circle cx="76.5" cy="1390.3" r="3.7" fill="#000"/>
<circle cx="205.9" cy="1517.3" r="3.7" fill="#000"/>
<circle cx="329.2" cy="1584.1" r="3.7" fill="#000"/>
<polyline points="76.5,1342.5 205.9,1568.5 329.2,1546.2" fill="none" stroke="#0000ff" stroke-width="4.3" stroke-linejoin="round"/>
<circle cx="76.5" cy="1342.5" r="3.7" fill="#0000ff"/>
<circle cx="205.9" cy="1568.5" r="3.7" fill="#0000ff"/>
<circle cx="329.2" cy="1546.2" r="3.7" fill="#0000ff"/>
<text x="72.1" y="1360.6" text-anchor="end">3250</text>
<text x="72.1" y="1420.58" text-anchor="end">3200</text>
<text x="72.1" y="1480.56" text-anchor="end">3150</text>
<text x="72.1" y="1540.54" text-anchor="end">3100</text>
<text x="72.1" y="1600.52" text-anchor="end">3050</text>
<text x="76.5" y="1637.25" text-anchor="middle">0</text>
<text x="144.62" y="1637.25" text-anchor="middle">200</text>
<text x="212.74" y="1637.25" text-anchor="middle">400</text>
<text x="280.86" y="1637.25" text-anchor="middle">600</text>
<text x="202.85" y="1292" text-anchor="middle">Caudate volume</text>
<text x="202.85" y="1653.95" text-anchor="middle">Days after first scan</text>
<text transform="translate(31.7 1461.58) rotate(-90)" text-anchor="middle">Volume (mm<tspan font-size="10" dy="-6">3</tspan><tspan dy="6">)</tspan></text>
<path d="M476.82 1302.7V1620.45M544.94 1302.7V1620.45M613.06 1302.7V1620.45M408.7 1327.27H661.3M408.7 1358.29H661.3M408.7 1389.3H661.3M408.7 1420.32H661.3M408.7 1451.33H661.3M408.7 1482.35H661.3M408.7 1513.36H661.3M408.7 1544.38H661.3M408.7 1575.39H661.3M408.7 1606.41H661.3" stroke="#8c8c8c" stroke-width="1" stroke-dasharray="1 5.25" fill="none"/>
<path d="M408.7 1620.45v-3.2M408.7 1302.7v3.2M476.82 1620.45v-3.2M476.82 1302.7v3.2M544.94 1620.45v-3.2M544.94 1302.7v3.2M613.06 1620.45v-3.2M613.06 1302.7v3.2M408.7 1327.27h3.2M661.3 1327.27h-3.2M408.7 1358.29h3.2M661.3 1358.29h-3.2M408.7 1389.3h3.2M661.3 1389.3h-3.2M408.7 1420.32h3.2M661.3 1420.32h-3.2M408.7 1451.33h3.2M661.3 1451.33h-3.2M408.7 1482.35h3.2M661.3 1482.35h-3.2M408.7 1513.36h3.2M661.3 1513.36h-3.2M408.7 1544.38h3.2M661.3 1544.38h-3.2M408.7 1575.39h3.2M661.3 1575.39h-3.2M408.7 1606.41h3.2M661.3 1606.41h-3.2" stroke="#000" stroke-width="1" fill="none"/>
<rect x="408.7" y="1302.7" width="252.6" height="317.75" fill="none" stroke="#000" stroke-width="1"/>
<polyline points="408.7,1352.6 538.2,1394.7 661.3,1506.5" fill="none" stroke="#000" stroke-width="4.3" stroke-linejoin="round"/>
<circle cx="408.7" cy="1352.6" r="3.7" fill="#000"/>
<circle cx="538.2" cy="1394.7" r="3.7" fill="#000"/>
<circle cx="661.3" cy="1506.5" r="3.7" fill="#000"/>
<polyline points="408.7,1506.5 538.2,1335 661.3,1591.4" fill="none" stroke="#0000ff" stroke-width="4.3" stroke-linejoin="round"/>
<circle cx="408.7" cy="1506.5" r="3.7" fill="#0000ff"/>
<circle cx="538.2" cy="1335" r="3.7" fill="#0000ff"/>
<circle cx="661.3" cy="1591.4" r="3.7" fill="#0000ff"/>
<text x="404.3" y="1332.17" text-anchor="end">1030</text>
<text x="404.3" y="1363.19" text-anchor="end">1020</text>
<text x="404.3" y="1394.2" text-anchor="end">1010</text>
<text x="404.3" y="1425.22" text-anchor="end">1000</text>
<text x="404.3" y="1456.23" text-anchor="end">990</text>
<text x="404.3" y="1487.25" text-anchor="end">980</text>
<text x="404.3" y="1518.26" text-anchor="end">970</text>
<text x="404.3" y="1549.28" text-anchor="end">960</text>
<text x="404.3" y="1580.29" text-anchor="end">950</text>
<text x="404.3" y="1611.31" text-anchor="end">940</text>
<text x="408.7" y="1637.25" text-anchor="middle">0</text>
<text x="476.82" y="1637.25" text-anchor="middle">200</text>
<text x="544.94" y="1637.25" text-anchor="middle">400</text>
<text x="613.06" y="1637.25" text-anchor="middle">600</text>
<text x="535" y="1292" text-anchor="middle">Globus volume</text>
<text x="535" y="1653.95" text-anchor="middle">Days after first scan</text>
<path d="M809.42 1302.7V1620.45M877.54 1302.7V1620.45M945.66 1302.7V1620.45M741.3 1338.93H994M741.3 1376.55H994M741.3 1414.16H994M741.3 1451.77H994M741.3 1489.38H994M741.3 1526.99H994M741.3 1564.6H994M741.3 1602.22H994" stroke="#8c8c8c" stroke-width="1" stroke-dasharray="1 5.25" fill="none"/>
<path d="M741.3 1620.45v-3.2M741.3 1302.7v3.2M809.42 1620.45v-3.2M809.42 1302.7v3.2M877.54 1620.45v-3.2M877.54 1302.7v3.2M945.66 1620.45v-3.2M945.66 1302.7v3.2M741.3 1338.93h3.2M994 1338.93h-3.2M741.3 1376.55h3.2M994 1376.55h-3.2M741.3 1414.16h3.2M994 1414.16h-3.2M741.3 1451.77h3.2M994 1451.77h-3.2M741.3 1489.38h3.2M994 1489.38h-3.2M741.3 1526.99h3.2M994 1526.99h-3.2M741.3 1564.6h3.2M994 1564.6h-3.2M741.3 1602.22h3.2M994 1602.22h-3.2" stroke="#000" stroke-width="1" fill="none"/>
<rect x="741.3" y="1302.7" width="252.7" height="317.75" fill="none" stroke="#000" stroke-width="1"/>
<polyline points="741.3,1360.7 870.5,1434.6 994,1336.6" fill="none" stroke="#000" stroke-width="4.3" stroke-linejoin="round"/>
<circle cx="741.3" cy="1360.7" r="3.7" fill="#000"/>
<circle cx="870.5" cy="1434.6" r="3.7" fill="#000"/>
<circle cx="994" cy="1336.6" r="3.7" fill="#000"/>
<polyline points="741.3,1589.8 870.5,1469.3 994,1390.1" fill="none" stroke="#0000ff" stroke-width="4.3" stroke-linejoin="round"/>
<circle cx="741.3" cy="1589.8" r="3.7" fill="#0000ff"/>
<circle cx="870.5" cy="1469.3" r="3.7" fill="#0000ff"/>
<circle cx="994" cy="1390.1" r="3.7" fill="#0000ff"/>
<text x="736.9" y="1343.83" text-anchor="end">1780</text>
<text x="736.9" y="1381.45" text-anchor="end">1760</text>
<text x="736.9" y="1419.06" text-anchor="end">1740</text>
<text x="736.9" y="1456.67" text-anchor="end">1720</text>
<text x="736.9" y="1494.28" text-anchor="end">1700</text>
<text x="736.9" y="1531.89" text-anchor="end">1680</text>
<text x="736.9" y="1569.5" text-anchor="end">1660</text>
<text x="736.9" y="1607.12" text-anchor="end">1640</text>
<text x="741.3" y="1637.25" text-anchor="middle">0</text>
<text x="809.42" y="1637.25" text-anchor="middle">200</text>
<text x="877.54" y="1637.25" text-anchor="middle">400</text>
<text x="945.66" y="1637.25" text-anchor="middle">600</text>
<text x="867.65" y="1292" text-anchor="middle">Hippocampus volume</text>
<text x="867.65" y="1653.95" text-anchor="middle">Days after first scan</text>
<path d="M1142.12 1302.7V1620.45M1210.24 1302.7V1620.45M1278.36 1302.7V1620.45M1074 1309.88H1326.6M1074 1350.56H1326.6M1074 1391.24H1326.6M1074 1431.92H1326.6M1074 1472.6H1326.6M1074 1513.28H1326.6M1074 1553.96H1326.6M1074 1594.64H1326.6" stroke="#8c8c8c" stroke-width="1" stroke-dasharray="1 5.25" fill="none"/>
<path d="M1074 1620.45v-3.2M1074 1302.7v3.2M1142.12 1620.45v-3.2M1142.12 1302.7v3.2M1210.24 1620.45v-3.2M1210.24 1302.7v3.2M1278.36 1620.45v-3.2M1278.36 1302.7v3.2M1074 1309.88h3.2M1326.6 1309.88h-3.2M1074 1350.56h3.2M1326.6 1350.56h-3.2M1074 1391.24h3.2M1326.6 1391.24h-3.2M1074 1431.92h3.2M1326.6 1431.92h-3.2M1074 1472.6h3.2M1326.6 1472.6h-3.2M1074 1513.28h3.2M1326.6 1513.28h-3.2M1074 1553.96h3.2M1326.6 1553.96h-3.2M1074 1594.64h3.2M1326.6 1594.64h-3.2" stroke="#000" stroke-width="1" fill="none"/>
<rect x="1074" y="1302.7" width="252.6" height="317.75" fill="none" stroke="#000" stroke-width="1"/>
<polyline points="1074,1485.8 1203.1,1531.3 1326.6,1594.4" fill="none" stroke="#000" stroke-width="4.3" stroke-linejoin="round"/>
<circle cx="1074" cy="1485.8" r="3.7" fill="#000"/>
<circle cx="1203.1" cy="1531.3" r="3.7" fill="#000"/>
<circle cx="1326.6" cy="1594.4" r="3.7" fill="#000"/>
<polyline points="1074,1417.4 1203.1,1332.2 1326.6,1493.2" fill="none" stroke="#0000ff" stroke-width="4.3" stroke-linejoin="round"/>
<circle cx="1074" cy="1417.4" r="3.7" fill="#0000ff"/>
<circle cx="1203.1" cy="1332.2" r="3.7" fill="#0000ff"/>
<circle cx="1326.6" cy="1493.2" r="3.7" fill="#0000ff"/>
<text x="1069.6" y="1314.78" text-anchor="end">3600</text>
<text x="1069.6" y="1355.46" text-anchor="end">3550</text>
<text x="1069.6" y="1396.14" text-anchor="end">3500</text>
<text x="1069.6" y="1436.82" text-anchor="end">3450</text>
<text x="1069.6" y="1477.5" text-anchor="end">3400</text>
<text x="1069.6" y="1518.18" text-anchor="end">3350</text>
<text x="1069.6" y="1558.86" text-anchor="end">3300</text>
<text x="1069.6" y="1599.54" text-anchor="end">3250</text>
<text x="1074" y="1637.25" text-anchor="middle">0</text>
<text x="1142.12" y="1637.25" text-anchor="middle">200</text>
<text x="1210.24" y="1637.25" text-anchor="middle">400</text>
<text x="1278.36" y="1637.25" text-anchor="middle">600</text>
<text x="1200.3" y="1292" text-anchor="middle">Putamen volume</text>
<text x="1200.3" y="1653.95" text-anchor="middle">Days after first scan</text>
<path d="M1474.72 1302.7V1620.45M1542.84 1302.7V1620.45M1610.96 1302.7V1620.45M1406.6 1318.94H1659.3M1406.6 1354.64H1659.3M1406.6 1390.34H1659.3M1406.6 1426.04H1659.3M1406.6 1461.74H1659.3M1406.6 1497.44H1659.3M1406.6 1533.14H1659.3M1406.6 1568.84H1659.3M1406.6 1604.54H1659.3" stroke="#8c8c8c" stroke-width="1" stroke-dasharray="1 5.25" fill="none"/>
<path d="M1406.6 1620.45v-3.2M1406.6 1302.7v3.2M1474.72 1620.45v-3.2M1474.72 1302.7v3.2M1542.84 1620.45v-3.2M1542.84 1302.7v3.2M1610.96 1620.45v-3.2M1610.96 1302.7v3.2M1406.6 1318.94h3.2M1659.3 1318.94h-3.2M1406.6 1354.64h3.2M1659.3 1354.64h-3.2M1406.6 1390.34h3.2M1659.3 1390.34h-3.2M1406.6 1426.04h3.2M1659.3 1426.04h-3.2M1406.6 1461.74h3.2M1659.3 1461.74h-3.2M1406.6 1497.44h3.2M1659.3 1497.44h-3.2M1406.6 1533.14h3.2M1659.3 1533.14h-3.2M1406.6 1568.84h3.2M1659.3 1568.84h-3.2M1406.6 1604.54h3.2M1659.3 1604.54h-3.2" stroke="#000" stroke-width="1" fill="none"/>
<rect x="1406.6" y="1302.7" width="252.7" height="317.75" fill="none" stroke="#000" stroke-width="1"/>
<polyline points="1406.6,1596.2 1535.8,1553.1 1659.3,1340.5" fill="none" stroke="#000" stroke-width="4.3" stroke-linejoin="round"/>
<circle cx="1406.6" cy="1596.2" r="3.7" fill="#000"/>
<circle cx="1535.8" cy="1553.1" r="3.7" fill="#000"/>
<circle cx="1659.3" cy="1340.5" r="3.7" fill="#000"/>
<polyline points="1406.6,1456.6 1535.8,1514 1659.3,1330.4" fill="none" stroke="#0000ff" stroke-width="4.3" stroke-linejoin="round"/>
<circle cx="1406.6" cy="1456.6" r="3.7" fill="#0000ff"/>
<circle cx="1535.8" cy="1514" r="3.7" fill="#0000ff"/>
<circle cx="1659.3" cy="1330.4" r="3.7" fill="#0000ff"/>
<text x="1402.2" y="1323.84" text-anchor="end">7600</text>
<text x="1402.2" y="1359.54" text-anchor="end">7500</text>
<text x="1402.2" y="1395.24" text-anchor="end">7400</text>
<text x="1402.2" y="1430.94" text-anchor="end">7300</text>
<text x="1402.2" y="1466.64" text-anchor="end">7200</text>
<text x="1402.2" y="1502.34" text-anchor="end">7100</text>
<text x="1402.2" y="1538.04" text-anchor="end">7000</text>
<text x="1402.2" y="1573.74" text-anchor="end">6900</text>
<text x="1402.2" y="1609.44" text-anchor="end">6800</text>
<text x="1406.6" y="1637.25" text-anchor="middle">0</text>
<text x="1474.72" y="1637.25" text-anchor="middle">200</text>
<text x="1542.84" y="1637.25" text-anchor="middle">400</text>
<text x="1610.96" y="1637.25" text-anchor="middle">600</text>
<text x="1532.95" y="1292" text-anchor="middle">Thalamus volume</text>
<text x="1532.95" y="1653.95" text-anchor="middle">Days after first scan</text>
<path d="M138.28 1726.1V2043.5M203.06 1726.1V2043.5M267.84 1726.1V2043.5M73.5 1742.62H326.2M73.5 1787.81H326.2M73.5 1833.01H326.2M73.5 1878.2H326.2M73.5 1923.39H326.2M73.5 1968.59H326.2M73.5 2013.78H326.2" stroke="#8c8c8c" stroke-width="1" stroke-dasharray="1 5.25" fill="none"/>
<path d="M73.5 2043.5v-3.2M73.5 1726.1v3.2M138.28 2043.5v-3.2M138.28 1726.1v3.2M203.06 2043.5v-3.2M203.06 1726.1v3.2M267.84 2043.5v-3.2M267.84 1726.1v3.2M73.5 1742.62h3.2M326.2 1742.62h-3.2M73.5 1787.81h3.2M326.2 1787.81h-3.2M73.5 1833.01h3.2M326.2 1833.01h-3.2M73.5 1878.2h3.2M326.2 1878.2h-3.2M73.5 1923.39h3.2M326.2 1923.39h-3.2M73.5 1968.59h3.2M326.2 1968.59h-3.2M73.5 2013.78h3.2M326.2 2013.78h-3.2" stroke="#000" stroke-width="1" fill="none"/>
<rect x="73.5" y="1726.1" width="252.7" height="317.4" fill="none" stroke="#000" stroke-width="1"/>
<polyline points="73.5,1889 191.2,1907.4 326.2,2035.2" fill="none" stroke="#000" stroke-width="4.3" stroke-linejoin="round"/>
<circle cx="73.5" cy="1889" r="3.7" fill="#000"/>
<circle cx="191.2" cy="1907.4" r="3.7" fill="#000"/>
<circle cx="326.2" cy="2035.2" r="3.7" fill="#000"/>
<polyline points="73.5,1737.9 191.2,1827.2 326.2,1892.9" fill="none" stroke="#0000ff" stroke-width="4.3" stroke-linejoin="round"/>
<circle cx="73.5" cy="1737.9" r="3.7" fill="#0000ff"/>
<circle cx="191.2" cy="1827.2" r="3.7" fill="#0000ff"/>
<circle cx="326.2" cy="1892.9" r="3.7" fill="#0000ff"/>
<text x="69.1" y="1747.52" text-anchor="end">2600</text>
<text x="69.1" y="1792.71" text-anchor="end">2500</text>
<text x="69.1" y="1837.91" text-anchor="end">2400</text>
<text x="69.1" y="1883.1" text-anchor="end">2300</text>
<text x="69.1" y="1928.29" text-anchor="end">2200</text>
<text x="69.1" y="1973.49" text-anchor="end">2100</text>
<text x="69.1" y="2018.68" text-anchor="end">2000</text>
<text x="73.5" y="2060.3" text-anchor="middle">0</text>
<text x="138.28" y="2060.3" text-anchor="middle">200</text>
<text x="203.06" y="2060.3" text-anchor="middle">400</text>
<text x="267.84" y="2060.3" text-anchor="middle">600</text>
<text x="199.85" y="1715.15" text-anchor="middle">Caudate volume</text>
<text x="199.85" y="2077" text-anchor="middle">Days after first scan</text>
<text transform="translate(28.7 1884.8) rotate(-90)" text-anchor="middle">Volume (mm<tspan font-size="10" dy="-6">3</tspan><tspan dy="6">)</tspan></text>
<path d="M470.98 1726.1V2043.5M535.76 1726.1V2043.5M600.54 1726.1V2043.5M406.2 1754.18H659.2M406.2 1786.29H659.2M406.2 1818.41H659.2M406.2 1850.52H659.2M406.2 1882.63H659.2M406.2 1914.75H659.2M406.2 1946.86H659.2M406.2 1978.97H659.2M406.2 2011.09H659.2" stroke="#8c8c8c" stroke-width="1" stroke-dasharray="1 5.25" fill="none"/>
<path d="M406.2 2043.5v-3.2M406.2 1726.1v3.2M470.98 2043.5v-3.2M470.98 1726.1v3.2M535.76 2043.5v-3.2M535.76 1726.1v3.2M600.54 2043.5v-3.2M600.54 1726.1v3.2M406.2 1754.18h3.2M659.2 1754.18h-3.2M406.2 1786.29h3.2M659.2 1786.29h-3.2M406.2 1818.41h3.2M659.2 1818.41h-3.2M406.2 1850.52h3.2M659.2 1850.52h-3.2M406.2 1882.63h3.2M659.2 1882.63h-3.2M406.2 1914.75h3.2M659.2 1914.75h-3.2M406.2 1946.86h3.2M659.2 1946.86h-3.2M406.2 1978.97h3.2M659.2 1978.97h-3.2M406.2 2011.09h3.2M659.2 2011.09h-3.2M406.2 2043.2h3.2M659.2 2043.2h-3.2" stroke="#000" stroke-width="1" fill="none"/>
<rect x="406.2" y="1726.1" width="253" height="317.4" fill="none" stroke="#000" stroke-width="1"/>
<polyline points="406.2,1967.7 524,1734.5 659.2,1982" fill="none" stroke="#000" stroke-width="4.3" stroke-linejoin="round"/>
<circle cx="406.2" cy="1967.7" r="3.7" fill="#000"/>
<circle cx="524" cy="1734.5" r="3.7" fill="#000"/>
<circle cx="659.2" cy="1982" r="3.7" fill="#000"/>
<polyline points="406.2,2038.9 524,2001.5 659.2,2030.4" fill="none" stroke="#0000ff" stroke-width="4.3" stroke-linejoin="round"/>
<circle cx="406.2" cy="2038.9" r="3.7" fill="#0000ff"/>
<circle cx="524" cy="2001.5" r="3.7" fill="#0000ff"/>
<circle cx="659.2" cy="2030.4" r="3.7" fill="#0000ff"/>
<text x="401.8" y="1759.08" text-anchor="end">1250</text>
<text x="401.8" y="1791.19" text-anchor="end">1200</text>
<text x="401.8" y="1823.31" text-anchor="end">1150</text>
<text x="401.8" y="1855.42" text-anchor="end">1100</text>
<text x="401.8" y="1887.53" text-anchor="end">1050</text>
<text x="401.8" y="1919.65" text-anchor="end">1000</text>
<text x="401.8" y="1951.76" text-anchor="end">950</text>
<text x="401.8" y="1983.87" text-anchor="end">900</text>
<text x="401.8" y="2015.99" text-anchor="end">850</text>
<text x="401.8" y="2048.1" text-anchor="end">800</text>
<text x="406.2" y="2060.3" text-anchor="middle">0</text>
<text x="470.98" y="2060.3" text-anchor="middle">200</text>
<text x="535.76" y="2060.3" text-anchor="middle">400</text>
<text x="600.54" y="2060.3" text-anchor="middle">600</text>
<text x="532.7" y="1715.15" text-anchor="middle">Globus volume</text>
<text x="532.7" y="2077" text-anchor="middle">Days after first scan</text>
<path d="M803.78 1726.1V2043.5M868.56 1726.1V2043.5M933.34 1726.1V2043.5M739 1753.6H991.8M739 1802.88H991.8M739 1852.16H991.8M739 1901.44H991.8M739 1950.72H991.8M739 2000H991.8" stroke="#8c8c8c" stroke-width="1" stroke-dasharray="1 5.25" fill="none"/>
<path d="M739 2043.5v-3.2M739 1726.1v3.2M803.78 2043.5v-3.2M803.78 1726.1v3.2M868.56 2043.5v-3.2M868.56 1726.1v3.2M933.34 2043.5v-3.2M933.34 1726.1v3.2M739 1753.6h3.2M991.8 1753.6h-3.2M739 1802.88h3.2M991.8 1802.88h-3.2M739 1852.16h3.2M991.8 1852.16h-3.2M739 1901.44h3.2M991.8 1901.44h-3.2M739 1950.72h3.2M991.8 1950.72h-3.2M739 2000h3.2M991.8 2000h-3.2" stroke="#000" stroke-width="1" fill="none"/>
<rect x="739" y="1726.1" width="252.8" height="317.4" fill="none" stroke="#000" stroke-width="1"/>
<polyline points="739,1743.4 856.8,2029 991.8,1996.4" fill="none" stroke="#000" stroke-width="4.3" stroke-linejoin="round"/>
<circle cx="739" cy="1743.4" r="3.7" fill="#000"/>
<circle cx="856.8" cy="2029" r="3.7" fill="#000"/>
<circle cx="991.8" cy="1996.4" r="3.7" fill="#000"/>
<polyline points="739,1749.2 856.8,1959.7 991.8,1990.7" fill="none" stroke="#0000ff" stroke-width="4.3" stroke-linejoin="round"/>
<circle cx="739" cy="1749.2" r="3.7" fill="#0000ff"/>
<circle cx="856.8" cy="1959.7" r="3.7" fill="#0000ff"/>
<circle cx="991.8" cy="1990.7" r="3.7" fill="#0000ff"/>
<text x="734.6" y="1758.5" text-anchor="end">1750</text>
<text x="734.6" y="1807.78" text-anchor="end">1700</text>
<text x="734.6" y="1857.06" text-anchor="end">1650</text>
<text x="734.6" y="1906.34" text-anchor="end">1600</text>
<text x="734.6" y="1955.62" text-anchor="end">1550</text>
<text x="734.6" y="2004.9" text-anchor="end">1500</text>
<text x="739" y="2060.3" text-anchor="middle">0</text>
<text x="803.78" y="2060.3" text-anchor="middle">200</text>
<text x="868.56" y="2060.3" text-anchor="middle">400</text>
<text x="933.34" y="2060.3" text-anchor="middle">600</text>
<text x="865.4" y="1715.15" text-anchor="middle">Hippocampus volume</text>
<text x="865.4" y="2077" text-anchor="middle">Days after first scan</text>
<path d="M1136.28 1726.1V2043.5M1201.06 1726.1V2043.5M1265.84 1726.1V2043.5M1071.5 1735.28H1324.3M1071.5 1766.58H1324.3M1071.5 1797.88H1324.3M1071.5 1829.18H1324.3M1071.5 1860.48H1324.3M1071.5 1891.78H1324.3M1071.5 1923.08H1324.3M1071.5 1954.38H1324.3M1071.5 1985.68H1324.3M1071.5 2016.98H1324.3" stroke="#8c8c8c" stroke-width="1" stroke-dasharray="1 5.25" fill="none"/>
<path d="M1071.5 2043.5v-3.2M1071.5 1726.1v3.2M1136.28 2043.5v-3.2M1136.28 1726.1v3.2M1201.06 2043.5v-3.2M1201.06 1726.1v3.2M1265.84 2043.5v-3.2M1265.84 1726.1v3.2M1071.5 1735.28h3.2M1324.3 1735.28h-3.2M1071.5 1766.58h3.2M1324.3 1766.58h-3.2M1071.5 1797.88h3.2M1324.3 1797.88h-3.2M1071.5 1829.18h3.2M1324.3 1829.18h-3.2M1071.5 1860.48h3.2M1324.3 1860.48h-3.2M1071.5 1891.78h3.2M1324.3 1891.78h-3.2M1071.5 1923.08h3.2M1324.3 1923.08h-3.2M1071.5 1954.38h3.2M1324.3 1954.38h-3.2M1071.5 1985.68h3.2M1324.3 1985.68h-3.2M1071.5 2016.98h3.2M1324.3 2016.98h-3.2" stroke="#000" stroke-width="1" fill="none"/>
<rect x="1071.5" y="1726.1" width="252.8" height="317.4" fill="none" stroke="#000" stroke-width="1"/>
<polyline points="1071.5,2034.1 1189.5,1739.3 1324.3,1847.2" fill="none" stroke="#000" stroke-width="4.3" stroke-linejoin="round"/>
<circle cx="1071.5" cy="2034.1" r="3.7" fill="#000"/>
<circle cx="1189.5" cy="1739.3" r="3.7" fill="#000"/>
<circle cx="1324.3" cy="1847.2" r="3.7" fill="#000"/>
<polyline points="1071.5,1971.2 1189.5,1889.2 1324.3,1957.4" fill="none" stroke="#0000ff" stroke-width="4.3" stroke-linejoin="round"/>
<circle cx="1071.5" cy="1971.2" r="3.7" fill="#0000ff"/>
<circle cx="1189.5" cy="1889.2" r="3.7" fill="#0000ff"/>
<circle cx="1324.3" cy="1957.4" r="3.7" fill="#0000ff"/>
<text x="1067.1" y="1740.18" text-anchor="end">4200</text>
<text x="1067.1" y="1771.48" text-anchor="end">4100</text>
<text x="1067.1" y="1802.78" text-anchor="end">4000</text>
<text x="1067.1" y="1834.08" text-anchor="end">3900</text>
<text x="1067.1" y="1865.38" text-anchor="end">3800</text>
<text x="1067.1" y="1896.68" text-anchor="end">3700</text>
<text x="1067.1" y="1927.98" text-anchor="end">3600</text>
<text x="1067.1" y="1959.28" text-anchor="end">3500</text>
<text x="1067.1" y="1990.58" text-anchor="end">3400</text>
<text x="1067.1" y="2021.88" text-anchor="end">3300</text>
<text x="1071.5" y="2060.3" text-anchor="middle">0</text>
<text x="1136.28" y="2060.3" text-anchor="middle">200</text>
<text x="1201.06" y="2060.3" text-anchor="middle">400</text>
<text x="1265.84" y="2060.3" text-anchor="middle">600</text>
<text x="1197.9" y="1715.15" text-anchor="middle">Putamen volume</text>
<text x="1197.9" y="2077" text-anchor="middle">Days after first scan</text>
<path d="M1469.08 1726.1V2043.5M1533.86 1726.1V2043.5M1598.64 1726.1V2043.5M1404.3 1739.52H1657M1404.3 1767.62H1657M1404.3 1795.72H1657M1404.3 1823.81H1657M1404.3 1851.91H1657M1404.3 1880.01H1657M1404.3 1908.11H1657M1404.3 1936.2H1657M1404.3 1964.3H1657M1404.3 1992.4H1657M1404.3 2020.5H1657" stroke="#8c8c8c" stroke-width="1" stroke-dasharray="1 5.25" fill="none"/>
<path d="M1404.3 2043.5v-3.2M1404.3 1726.1v3.2M1469.08 2043.5v-3.2M1469.08 1726.1v3.2M1533.86 2043.5v-3.2M1533.86 1726.1v3.2M1598.64 2043.5v-3.2M1598.64 1726.1v3.2M1404.3 1739.52h3.2M1657 1739.52h-3.2M1404.3 1767.62h3.2M1657 1767.62h-3.2M1404.3 1795.72h3.2M1657 1795.72h-3.2M1404.3 1823.81h3.2M1657 1823.81h-3.2M1404.3 1851.91h3.2M1657 1851.91h-3.2M1404.3 1880.01h3.2M1657 1880.01h-3.2M1404.3 1908.11h3.2M1657 1908.11h-3.2M1404.3 1936.2h3.2M1657 1936.2h-3.2M1404.3 1964.3h3.2M1657 1964.3h-3.2M1404.3 1992.4h3.2M1657 1992.4h-3.2M1404.3 2020.5h3.2M1657 2020.5h-3.2" stroke="#000" stroke-width="1" fill="none"/>
<rect x="1404.3" y="1726.1" width="252.7" height="317.4" fill="none" stroke="#000" stroke-width="1"/>
<polyline points="1404.3,1924.6 1522.1,2027.9 1657,1941.1" fill="none" stroke="#000" stroke-width="4.3" stroke-linejoin="round"/>
<circle cx="1404.3" cy="1924.6" r="3.7" fill="#000"/>
<circle cx="1522.1" cy="2027.9" r="3.7" fill="#000"/>
<circle cx="1657" cy="1941.1" r="3.7" fill="#000"/>
<polyline points="1404.3,1752.4 1522.1,1781.1 1657,1745" fill="none" stroke="#0000ff" stroke-width="4.3" stroke-linejoin="round"/>
<circle cx="1404.3" cy="1752.4" r="3.7" fill="#0000ff"/>
<circle cx="1522.1" cy="1781.1" r="3.7" fill="#0000ff"/>
<circle cx="1657" cy="1745" r="3.7" fill="#0000ff"/>
<text x="1399.9" y="1744.42" text-anchor="end">6700</text>
<text x="1399.9" y="1772.52" text-anchor="end">6600</text>
<text x="1399.9" y="1800.62" text-anchor="end">6500</text>
<text x="1399.9" y="1828.71" text-anchor="end">6400</text>
<text x="1399.9" y="1856.81" text-anchor="end">6300</text>
<text x="1399.9" y="1884.91" text-anchor="end">6200</text>
<text x="1399.9" y="1913.01" text-anchor="end">6100</text>
<text x="1399.9" y="1941.1" text-anchor="end">6000</text>
<text x="1399.9" y="1969.2" text-anchor="end">5900</text>
<text x="1399.9" y="1997.3" text-anchor="end">5800</text>
<text x="1399.9" y="2025.4" text-anchor="end">5700</text>
<text x="1404.3" y="2060.3" text-anchor="middle">0</text>
<text x="1469.08" y="2060.3" text-anchor="middle">200</text>
<text x="1533.86" y="2060.3" text-anchor="middle">400</text>
<text x="1598.64" y="2060.3" text-anchor="middle">600</text>
<text x="1530.65" y="1715.15" text-anchor="middle">Thalamus volume</text>
<text x="1530.65" y="2077" text-anchor="middle">Days after first scan</text>
<path d="M146.88 2154.1V2471.45M224.16 2154.1V2471.45M301.44 2154.1V2471.45M69.6 2191.92H322.3M69.6 2253.67H322.3M69.6 2315.42H322.3M69.6 2377.17H322.3M69.6 2438.92H322.3" stroke="#8c8c8c" stroke-width="1" stroke-dasharray="1 5.25" fill="none"/>
<path d="M69.6 2471.45v-3.2M69.6 2154.1v3.2M146.88 2471.45v-3.2M146.88 2154.1v3.2M224.16 2471.45v-3.2M224.16 2154.1v3.2M301.44 2471.45v-3.2M301.44 2154.1v3.2M69.6 2191.92h3.2M322.3 2191.92h-3.2M69.6 2253.67h3.2M322.3 2253.67h-3.2M69.6 2315.42h3.2M322.3 2315.42h-3.2M69.6 2377.17h3.2M322.3 2377.17h-3.2M69.6 2438.92h3.2M322.3 2438.92h-3.2" stroke="#000" stroke-width="1" fill="none"/>
<rect x="69.6" y="2154.1" width="252.7" height="317.35" fill="none" stroke="#000" stroke-width="1"/>
<polyline points="69.6,2368.7 177.7,2398.5 322.3,2425.4" fill="none" stroke="#000" stroke-width="4.3" stroke-linejoin="round"/>
<circle cx="69.6" cy="2368.7" r="3.7" fill="#000"/>
<circle cx="177.7" cy="2398.5" r="3.7" fill="#000"/>
<circle cx="322.3" cy="2425.4" r="3.7" fill="#000"/>
<polyline points="69.6,2401.7 177.7,2185.2 322.3,2443.5" fill="none" stroke="#0000ff" stroke-width="4.3" stroke-linejoin="round"/>
<circle cx="69.6" cy="2401.7" r="3.7" fill="#0000ff"/>
<circle cx="177.7" cy="2185.2" r="3.7" fill="#0000ff"/>
<circle cx="322.3" cy="2443.5" r="3.7" fill="#0000ff"/>
<text x="65.2" y="2196.82" text-anchor="end">2500</text>
<text x="65.2" y="2258.57" text-anchor="end">2450</text>
<text x="65.2" y="2320.32" text-anchor="end">2400</text>
<text x="65.2" y="2382.07" text-anchor="end">2350</text>
<text x="65.2" y="2443.82" text-anchor="end">2300</text>
<text x="69.6" y="2488.25" text-anchor="middle">0</text>
<text x="146.88" y="2488.25" text-anchor="middle">200</text>
<text x="224.16" y="2488.25" text-anchor="middle">400</text>
<text x="301.44" y="2488.25" text-anchor="middle">600</text>
<text x="195.95" y="2143.35" text-anchor="middle">Caudate volume</text>
<text x="195.95" y="2504.95" text-anchor="middle">Days after first scan</text>
<text transform="translate(24.8 2312.77) rotate(-90)" text-anchor="middle">Volume (mm<tspan font-size="10" dy="-6">3</tspan><tspan dy="6">)</tspan></text>
<path d="M479.18 2154.1V2471.45M556.46 2154.1V2471.45M633.74 2154.1V2471.45M401.9 2186.72H654.4M401.9 2253.62H654.4M401.9 2320.52H654.4M401.9 2387.42H654.4M401.9 2454.32H654.4" stroke="#8c8c8c" stroke-width="1" stroke-dasharray="1 5.25" fill="none"/>
<path d="M401.9 2471.45v-3.2M401.9 2154.1v3.2M479.18 2471.45v-3.2M479.18 2154.1v3.2M556.46 2471.45v-3.2M556.46 2154.1v3.2M633.74 2471.45v-3.2M633.74 2154.1v3.2M401.9 2186.72h3.2M654.4 2186.72h-3.2M401.9 2253.62h3.2M654.4 2253.62h-3.2M401.9 2320.52h3.2M654.4 2320.52h-3.2M401.9 2387.42h3.2M654.4 2387.42h-3.2M401.9 2454.32h3.2M654.4 2454.32h-3.2" stroke="#000" stroke-width="1" fill="none"/>
<rect x="401.9" y="2154.1" width="252.5" height="317.35" fill="none" stroke="#000" stroke-width="1"/>
<polyline points="401.9,2256.9 510.5,2165.3 654.4,2165.3" fill="none" stroke="#000" stroke-width="4.3" stroke-linejoin="round"/>
<circle cx="401.9" cy="2256.9" r="3.7" fill="#000"/>
<circle cx="510.5" cy="2165.3" r="3.7" fill="#000"/>
<circle cx="654.4" cy="2165.3" r="3.7" fill="#000"/>
<polyline points="401.9,2345.5 510.5,2231.8 654.4,2463.7" fill="none" stroke="#0000ff" stroke-width="4.3" stroke-linejoin="round"/>
<circle cx="401.9" cy="2345.5" r="3.7" fill="#0000ff"/>
<circle cx="510.5" cy="2231.8" r="3.7" fill="#0000ff"/>
<circle cx="654.4" cy="2463.7" r="3.7" fill="#0000ff"/>
<text x="397.5" y="2191.62" text-anchor="end">800</text>
<text x="397.5" y="2258.52" text-anchor="end">750</text>
<text x="397.5" y="2325.42" text-anchor="end">700</text>
<text x="397.5" y="2392.32" text-anchor="end">650</text>
<text x="397.5" y="2459.22" text-anchor="end">600</text>
<text x="401.9" y="2488.25" text-anchor="middle">0</text>
<text x="479.18" y="2488.25" text-anchor="middle">200</text>
<text x="556.46" y="2488.25" text-anchor="middle">400</text>
<text x="633.74" y="2488.25" text-anchor="middle">600</text>
<text x="528.15" y="2143.35" text-anchor="middle">Globus volume</text>
<text x="528.15" y="2504.95" text-anchor="middle">Days after first scan</text>
<path d="M811.68 2154.1V2471.45M888.96 2154.1V2471.45M966.24 2154.1V2471.45M734.4 2159.94H986.9M734.4 2223.51H986.9M734.4 2287.08H986.9M734.4 2350.65H986.9M734.4 2414.22H986.9" stroke="#8c8c8c" stroke-width="1" stroke-dasharray="1 5.25" fill="none"/>
<path d="M734.4 2471.45v-3.2M734.4 2154.1v3.2M811.68 2471.45v-3.2M811.68 2154.1v3.2M888.96 2471.45v-3.2M888.96 2154.1v3.2M966.24 2471.45v-3.2M966.24 2154.1v3.2M734.4 2159.94h3.2M986.9 2159.94h-3.2M734.4 2223.51h3.2M986.9 2223.51h-3.2M734.4 2287.08h3.2M986.9 2287.08h-3.2M734.4 2350.65h3.2M986.9 2350.65h-3.2M734.4 2414.22h3.2M986.9 2414.22h-3.2" stroke="#000" stroke-width="1" fill="none"/>
<rect x="734.4" y="2154.1" width="252.5" height="317.35" fill="none" stroke="#000" stroke-width="1"/>
<polyline points="734.4,2407.9 842.75,2183.4 986.9,2363.2" fill="none" stroke="#000" stroke-width="4.3" stroke-linejoin="round"/>
<circle cx="734.4" cy="2407.9" r="3.7" fill="#000"/>
<circle cx="842.75" cy="2183.4" r="3.7" fill="#000"/>
<circle cx="986.9" cy="2363.2" r="3.7" fill="#000"/>
<polyline points="734.4,2186.8 842.75,2177.7 986.9,2451.1" fill="none" stroke="#0000ff" stroke-width="4.3" stroke-linejoin="round"/>
<circle cx="734.4" cy="2186.8" r="3.7" fill="#0000ff"/>
<circle cx="842.75" cy="2177.7" r="3.7" fill="#0000ff"/>
<circle cx="986.9" cy="2451.1" r="3.7" fill="#0000ff"/>
<text x="730" y="2164.84" text-anchor="end">1850</text>
<text x="730" y="2228.41" text-anchor="end">1800</text>
<text x="730" y="2291.98" text-anchor="end">1750</text>
<text x="730" y="2355.55" text-anchor="end">1700</text>
<text x="730" y="2419.12" text-anchor="end">1650</text>
<text x="734.4" y="2488.25" text-anchor="middle">0</text>
<text x="811.68" y="2488.25" text-anchor="middle">200</text>
<text x="888.96" y="2488.25" text-anchor="middle">400</text>
<text x="966.24" y="2488.25" text-anchor="middle">600</text>
<text x="860.65" y="2143.35" text-anchor="middle">Hippocampus volume</text>
<text x="860.65" y="2504.95" text-anchor="middle">Days after first scan</text>
<path d="M1144.18 2154.1V2471.45M1221.46 2154.1V2471.45M1298.74 2154.1V2471.45M1066.9 2188.9H1319.5M1066.9 2237.42H1319.5M1066.9 2285.95H1319.5M1066.9 2334.48H1319.5M1066.9 2383.01H1319.5M1066.9 2431.54H1319.5" stroke="#8c8c8c" stroke-width="1" stroke-dasharray="1 5.25" fill="none"/>
<path d="M1066.9 2471.45v-3.2M1066.9 2154.1v3.2M1144.18 2471.45v-3.2M1144.18 2154.1v3.2M1221.46 2471.45v-3.2M1221.46 2154.1v3.2M1298.74 2471.45v-3.2M1298.74 2154.1v3.2M1066.9 2188.9h3.2M1319.5 2188.9h-3.2M1066.9 2237.42h3.2M1319.5 2237.42h-3.2M1066.9 2285.95h3.2M1319.5 2285.95h-3.2M1066.9 2334.48h3.2M1319.5 2334.48h-3.2M1066.9 2383.01h3.2M1319.5 2383.01h-3.2M1066.9 2431.54h3.2M1319.5 2431.54h-3.2" stroke="#000" stroke-width="1" fill="none"/>
<rect x="1066.9" y="2154.1" width="252.6" height="317.35" fill="none" stroke="#000" stroke-width="1"/>
<polyline points="1066.9,2270 1175.3,2233.5 1319.5,2362.7" fill="none" stroke="#000" stroke-width="4.3" stroke-linejoin="round"/>
<circle cx="1066.9" cy="2270" r="3.7" fill="#000"/>
<circle cx="1175.3" cy="2233.5" r="3.7" fill="#000"/>
<circle cx="1319.5" cy="2362.7" r="3.7" fill="#000"/>
<polyline points="1066.9,2339.1 1175.3,2171 1319.5,2457.8" fill="none" stroke="#0000ff" stroke-width="4.3" stroke-linejoin="round"/>
<circle cx="1066.9" cy="2339.1" r="3.7" fill="#0000ff"/>
<circle cx="1175.3" cy="2171" r="3.7" fill="#0000ff"/>
<circle cx="1319.5" cy="2457.8" r="3.7" fill="#0000ff"/>
<text x="1062.5" y="2193.8" text-anchor="end">3400</text>
<text x="1062.5" y="2242.32" text-anchor="end">3300</text>
<text x="1062.5" y="2290.85" text-anchor="end">3200</text>
<text x="1062.5" y="2339.38" text-anchor="end">3100</text>
<text x="1062.5" y="2387.91" text-anchor="end">3000</text>
<text x="1062.5" y="2436.44" text-anchor="end">2900</text>
<text x="1066.9" y="2488.25" text-anchor="middle">0</text>
<text x="1144.18" y="2488.25" text-anchor="middle">200</text>
<text x="1221.46" y="2488.25" text-anchor="middle">400</text>
<text x="1298.74" y="2488.25" text-anchor="middle">600</text>
<text x="1193.2" y="2143.35" text-anchor="middle">Putamen volume</text>
<text x="1193.2" y="2504.95" text-anchor="middle">Days after first scan</text>
<path d="M1476.78 2154.1V2471.45M1554.06 2154.1V2471.45M1631.34 2154.1V2471.45M1399.5 2185.55H1652.2M1399.5 2233.44H1652.2M1399.5 2281.34H1652.2M1399.5 2329.23H1652.2M1399.5 2377.12H1652.2M1399.5 2425.02H1652.2" stroke="#8c8c8c" stroke-width="1" stroke-dasharray="1 5.25" fill="none"/>
<path d="M1399.5 2471.45v-3.2M1399.5 2154.1v3.2M1476.78 2471.45v-3.2M1476.78 2154.1v3.2M1554.06 2471.45v-3.2M1554.06 2154.1v3.2M1631.34 2471.45v-3.2M1631.34 2154.1v3.2M1399.5 2185.55h3.2M1652.2 2185.55h-3.2M1399.5 2233.44h3.2M1652.2 2233.44h-3.2M1399.5 2281.34h3.2M1652.2 2281.34h-3.2M1399.5 2329.23h3.2M1652.2 2329.23h-3.2M1399.5 2377.12h3.2M1652.2 2377.12h-3.2M1399.5 2425.02h3.2M1652.2 2425.02h-3.2" stroke="#000" stroke-width="1" fill="none"/>
<rect x="1399.5" y="2154.1" width="252.7" height="317.35" fill="none" stroke="#000" stroke-width="1"/>
<polyline points="1399.5,2218.8 1507.8,2189.8 1652.2,2439.2" fill="none" stroke="#000" stroke-width="4.3" stroke-linejoin="round"/>
<circle cx="1399.5" cy="2218.8" r="3.7" fill="#000"/>
<circle cx="1507.8" cy="2189.8" r="3.7" fill="#000"/>
<circle cx="1652.2" cy="2439.2" r="3.7" fill="#000"/>
<polyline points="1399.5,2397.2 1507.8,2234.8 1652.2,2237.8" fill="none" stroke="#0000ff" stroke-width="4.3" stroke-linejoin="round"/>
<circle cx="1399.5" cy="2397.2" r="3.7" fill="#0000ff"/>
<circle cx="1507.8" cy="2234.8" r="3.7" fill="#0000ff"/>
<circle cx="1652.2" cy="2237.8" r="3.7" fill="#0000ff"/>
<text x="1395.1" y="2190.45" text-anchor="end">7400</text>
<text x="1395.1" y="2238.34" text-anchor="end">7300</text>
<text x="1395.1" y="2286.24" text-anchor="end">7200</text>
<text x="1395.1" y="2334.13" text-anchor="end">7100</text>
<text x="1395.1" y="2382.02" text-anchor="end">7000</text>
<text x="1395.1" y="2429.92" text-anchor="end">6900</text>
<text x="1399.5" y="2488.25" text-anchor="middle">0</text>
<text x="1476.78" y="2488.25" text-anchor="middle">200</text>
<text x="1554.06" y="2488.25" text-anchor="middle">400</text>
<text x="1631.34" y="2488.25" text-anchor="middle">600</text>
<text x="1525.85" y="2143.35" text-anchor="middle">Thalamus volume</text>
<text x="1525.85" y="2504.95" text-anchor="middle">Days after first scan</text>
</g>
</svg>
</body></html>
